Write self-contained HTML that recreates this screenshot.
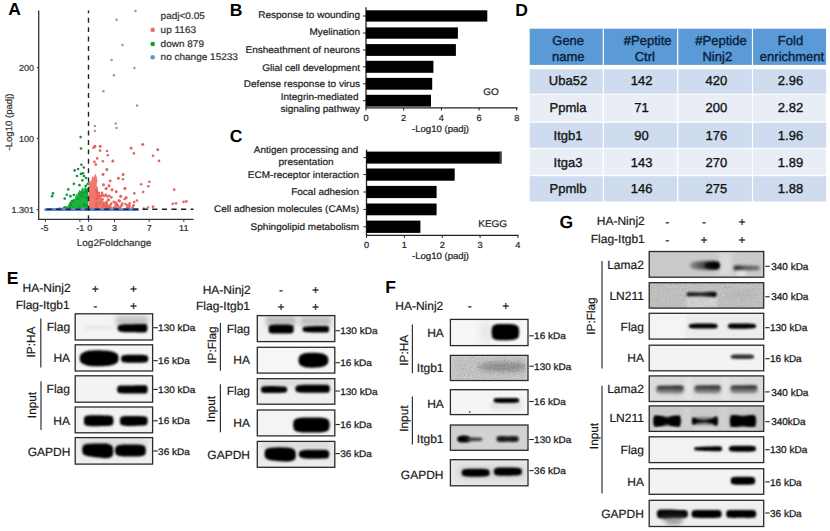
<!DOCTYPE html>
<html><head><meta charset="utf-8"><style>html,body{margin:0;padding:0;background:#fff;width:830px;height:531px;overflow:hidden} text{font-family:"Liberation Sans", sans-serif}</style></head>
<body><svg width="830" height="531" viewBox="0 0 830 531" style="display:block;font-family:&quot;Liberation Sans&quot;, sans-serif" text-rendering="geometricPrecision"><defs><filter id="b25" x="-50%" y="-100%" width="200%" height="300%"><feGaussianBlur stdDeviation="2.5"/></filter><filter id="b15" x="-50%" y="-100%" width="200%" height="300%"><feGaussianBlur stdDeviation="1.5"/></filter><filter id="b9" x="-50%" y="-100%" width="200%" height="300%"><feGaussianBlur stdDeviation="0.9"/></filter><filter id="b20" x="-50%" y="-100%" width="200%" height="300%"><feGaussianBlur stdDeviation="2.0"/></filter><filter id="b10" x="-50%" y="-100%" width="200%" height="300%"><feGaussianBlur stdDeviation="1.0"/></filter><filter id="b22" x="-50%" y="-100%" width="200%" height="300%"><feGaussianBlur stdDeviation="2.2"/></filter><filter id="b35" x="-50%" y="-100%" width="200%" height="300%"><feGaussianBlur stdDeviation="3.5"/></filter><filter id="b30" x="-50%" y="-100%" width="200%" height="300%"><feGaussianBlur stdDeviation="3"/></filter><filter id="b11" x="-50%" y="-100%" width="200%" height="300%"><feGaussianBlur stdDeviation="1.1"/></filter><filter id="b12" x="-50%" y="-100%" width="200%" height="300%"><feGaussianBlur stdDeviation="1.2"/></filter><filter id="b16" x="-50%" y="-100%" width="200%" height="300%"><feGaussianBlur stdDeviation="1.6"/></filter><filter id="b13" x="-50%" y="-100%" width="200%" height="300%"><feGaussianBlur stdDeviation="1.3"/></filter><clipPath id="ce1"><rect x="75.2" y="313.8" width="77.39999999999999" height="26.19999999999999"/></clipPath><clipPath id="ce2"><rect x="75.2" y="344.8" width="77.39999999999999" height="26.19999999999999"/></clipPath><clipPath id="ce3"><rect x="75.2" y="375.8" width="77.39999999999999" height="26.399999999999977"/></clipPath><clipPath id="ce4"><rect x="75.2" y="407.0" width="77.39999999999999" height="25.80000000000001"/></clipPath><clipPath id="ce5"><rect x="75.2" y="437.6" width="77.39999999999999" height="26.5"/></clipPath><clipPath id="cf1"><rect x="257.3" y="315.6" width="77.5" height="26.0"/></clipPath><clipPath id="cf2"><rect x="257.3" y="347.3" width="77.5" height="25.80000000000001"/></clipPath><clipPath id="cf3"><rect x="257.3" y="378.7" width="77.5" height="25.5"/></clipPath><clipPath id="cf4"><rect x="257.3" y="410.0" width="77.5" height="25.899999999999977"/></clipPath><clipPath id="cf5"><rect x="257.3" y="441.4" width="77.5" height="25.900000000000034"/></clipPath><clipPath id="cg1"><rect x="450.4" y="319.4" width="77.60000000000002" height="26.200000000000045"/></clipPath><clipPath id="cg2"><rect x="450.4" y="355.4" width="77.60000000000002" height="25.100000000000023"/></clipPath><clipPath id="cg3"><rect x="450.4" y="389.7" width="77.60000000000002" height="24.900000000000034"/></clipPath><clipPath id="cg4"><rect x="450.4" y="425.0" width="77.60000000000002" height="25.30000000000001"/></clipPath><clipPath id="cg5"><rect x="450.4" y="459.7" width="77.60000000000002" height="26.100000000000023"/></clipPath><clipPath id="ch1"><rect x="649.2" y="251.5" width="114.5" height="25.69999999999999"/></clipPath><clipPath id="ch2"><rect x="649.2" y="282.7" width="114.5" height="25.400000000000034"/></clipPath><clipPath id="ch3"><rect x="649.2" y="313.3" width="114.5" height="25.80000000000001"/></clipPath><clipPath id="ch4"><rect x="649.2" y="345.2" width="114.5" height="25.600000000000023"/></clipPath><clipPath id="ch5"><rect x="649.2" y="375.9" width="114.5" height="25.600000000000023"/></clipPath><clipPath id="ch6"><rect x="649.2" y="405.9" width="114.5" height="25.5"/></clipPath><clipPath id="ch7"><rect x="649.2" y="436.8" width="114.5" height="25.80000000000001"/></clipPath><clipPath id="ch8"><rect x="649.2" y="468.7" width="114.5" height="25.600000000000023"/></clipPath><clipPath id="ch9"><rect x="649.2" y="500.3" width="114.5" height="26.19999999999999"/></clipPath><filter id="noise3" x="0" y="0" width="100%" height="100%"><feTurbulence type="fractalNoise" baseFrequency="0.7" numOctaves="2" seed="3"/><feColorMatrix type="matrix" values="0 0 0 0 0  0 0 0 0 0  0 0 0 0 0  0 0 0 -2.5 1.45"/></filter><filter id="noise5" x="0" y="0" width="100%" height="100%"><feTurbulence type="fractalNoise" baseFrequency="0.7" numOctaves="2" seed="5"/><feColorMatrix type="matrix" values="0 0 0 0 0  0 0 0 0 0  0 0 0 0 0  0 0 0 -2.5 1.45"/></filter></defs><rect width="830" height="531" fill="#fff"/><text x="8.3" y="15.4" font-size="17.5" text-anchor="start" font-weight="bold" fill="#000" stroke="#000" stroke-width="0">A</text>
<text x="229.8" y="15.8" font-size="17.5" text-anchor="start" font-weight="bold" fill="#000" stroke="#000" stroke-width="0">B</text>
<text x="229.8" y="141.8" font-size="17.5" text-anchor="start" font-weight="bold" fill="#000" stroke="#000" stroke-width="0">C</text>
<text x="515.2" y="15.6" font-size="17.5" text-anchor="start" font-weight="bold" fill="#000" stroke="#000" stroke-width="0">D</text>
<text x="6.8" y="283.8" font-size="17.5" text-anchor="start" font-weight="bold" fill="#000" stroke="#000" stroke-width="0">E</text>
<text x="385.3" y="293.3" font-size="17.5" text-anchor="start" font-weight="bold" fill="#000" stroke="#000" stroke-width="0">F</text>
<text x="559.5" y="228.0" font-size="17.5" text-anchor="start" font-weight="bold" fill="#000" stroke="#000" stroke-width="0">G</text>
<g id="volcano">
<polygon points="66,208.8 68,205 70,202.5 72,203 73,199.5 75,198.5 76,194 78,195 79,190 81,191 82,187 84,189.5 85,185.5 86.5,188.5 88.2,187.5 88.2,208.8" fill="#1cb43f"/>
<polygon points="88.7,208.8 88.7,184 90,180 91,182 92.5,176 94,177.5 95,173.5 96.5,176 97.5,181 96.5,185 98,188 97.5,192 99.5,193.5 100.5,197 102,198 103,201 105,202.5 107,203 110,206 116,208.8" fill="#f3786c"/>
<circle cx="135.5" cy="10.9" r="1.25" fill="#cc8585"/>
<circle cx="116.6" cy="19.8" r="1.25" fill="#cc8585"/>
<circle cx="122.5" cy="45.0" r="1.25" fill="#cc8585"/>
<circle cx="111.6" cy="60.0" r="1.25" fill="#cc8585"/>
<circle cx="134.4" cy="67.9" r="1.25" fill="#cc8585"/>
<circle cx="113.9" cy="75.2" r="1.25" fill="#cc8585"/>
<circle cx="103.4" cy="91.3" r="1.25" fill="#cc8585"/>
<circle cx="137.0" cy="105.6" r="1.25" fill="#cc8585"/>
<circle cx="115.7" cy="123.5" r="1.25" fill="#cc8585"/>
<circle cx="116.5" cy="127.9" r="1.25" fill="#cc8585"/>
<circle cx="94.8" cy="126.1" r="1.25" fill="#cc8585"/>
<circle cx="94.8" cy="131.1" r="1.25" fill="#cc8585"/>
<circle cx="143.0" cy="144.5" r="1.3" fill="#d86a66"/>
<circle cx="100.4" cy="146.3" r="1.3" fill="#d86a66"/>
<circle cx="95.0" cy="146.2" r="1.35" fill="#e8655f"/>
<circle cx="93.6" cy="147.7" r="1.35" fill="#e8655f"/>
<circle cx="131.3" cy="148.0" r="1.3" fill="#d86a66"/>
<circle cx="157.7" cy="149.5" r="1.3" fill="#d86a66"/>
<circle cx="142.4" cy="144.5" r="1.3" fill="#d86a66"/>
<circle cx="131.0" cy="148.2" r="1.3" fill="#d86a66"/>
<circle cx="133.9" cy="153.4" r="1.3" fill="#d86a66"/>
<circle cx="157.9" cy="149.9" r="1.3" fill="#d86a66"/>
<circle cx="153.0" cy="155.8" r="1.3" fill="#d86a66"/>
<circle cx="159.0" cy="160.9" r="1.3" fill="#d86a66"/>
<circle cx="113.0" cy="160.9" r="1.3" fill="#d86a66"/>
<circle cx="106.8" cy="169.4" r="1.3" fill="#d86a66"/>
<circle cx="103.1" cy="174.3" r="1.3" fill="#d86a66"/>
<circle cx="122.9" cy="174.6" r="1.3" fill="#d86a66"/>
<circle cx="118.4" cy="178.4" r="1.3" fill="#d86a66"/>
<circle cx="122.9" cy="179.3" r="1.3" fill="#d86a66"/>
<circle cx="110.2" cy="180.7" r="1.3" fill="#d86a66"/>
<circle cx="149.4" cy="181.7" r="1.3" fill="#d86a66"/>
<circle cx="141.2" cy="184.2" r="1.3" fill="#d86a66"/>
<circle cx="148.3" cy="186.3" r="1.35" fill="#e8655f"/>
<circle cx="103.5" cy="184.9" r="1.3" fill="#d86a66"/>
<circle cx="108.8" cy="185.9" r="1.35" fill="#e8655f"/>
<circle cx="125.1" cy="188.3" r="1.35" fill="#e8655f"/>
<circle cx="105.9" cy="188.7" r="1.35" fill="#e8655f"/>
<circle cx="112.0" cy="189.7" r="1.35" fill="#e8655f"/>
<circle cx="116.2" cy="191.6" r="1.35" fill="#e8655f"/>
<circle cx="143.1" cy="192.0" r="1.35" fill="#e8655f"/>
<circle cx="134.3" cy="193.4" r="1.35" fill="#e8655f"/>
<circle cx="174.2" cy="189.7" r="1.35" fill="#e8655f"/>
<circle cx="120.9" cy="196.2" r="1.35" fill="#e8655f"/>
<circle cx="126.1" cy="197.6" r="1.35" fill="#e8655f"/>
<circle cx="124.7" cy="199.0" r="1.35" fill="#e8655f"/>
<circle cx="137.0" cy="200.5" r="1.35" fill="#e8655f"/>
<circle cx="134.2" cy="202.1" r="1.35" fill="#e8655f"/>
<circle cx="129.7" cy="203.3" r="1.35" fill="#e8655f"/>
<circle cx="127.5" cy="205.3" r="1.35" fill="#e8655f"/>
<circle cx="133.6" cy="205.3" r="1.35" fill="#e8655f"/>
<circle cx="172.7" cy="203.8" r="1.35" fill="#e8655f"/>
<circle cx="176.0" cy="203.3" r="1.35" fill="#e8655f"/>
<circle cx="183.6" cy="201.9" r="1.35" fill="#e8655f"/>
<circle cx="186.4" cy="201.4" r="1.35" fill="#e8655f"/>
<circle cx="153.0" cy="206.7" r="1.35" fill="#e8655f"/>
<circle cx="148.0" cy="207.5" r="1.35" fill="#e8655f"/>
<circle cx="143.8" cy="208.5" r="1.35" fill="#e8655f"/>
<circle cx="94.4" cy="147.0" r="1.35" fill="#e8655f"/>
<circle cx="100.0" cy="146.4" r="1.35" fill="#e8655f"/>
<circle cx="100.0" cy="150.6" r="1.35" fill="#e8655f"/>
<circle cx="107.0" cy="151.0" r="1.3" fill="#d86a66"/>
<circle cx="107.8" cy="155.3" r="1.3" fill="#d86a66"/>
<circle cx="97.2" cy="158.4" r="1.35" fill="#e8655f"/>
<circle cx="94.4" cy="161.9" r="1.35" fill="#e8655f"/>
<circle cx="102.9" cy="161.2" r="1.3" fill="#d86a66"/>
<circle cx="112.7" cy="161.2" r="1.3" fill="#d86a66"/>
<circle cx="95.8" cy="164.7" r="1.35" fill="#e8655f"/>
<circle cx="107.0" cy="169.7" r="1.3" fill="#d86a66"/>
<circle cx="102.9" cy="174.6" r="1.3" fill="#d86a66"/>
<circle cx="123.3" cy="174.6" r="1.3" fill="#d86a66"/>
<circle cx="118.4" cy="178.1" r="1.3" fill="#d86a66"/>
<circle cx="110.0" cy="181.0" r="1.3" fill="#d86a66"/>
<circle cx="103.6" cy="184.9" r="1.3" fill="#d86a66"/>
<circle cx="109.2" cy="185.9" r="1.35" fill="#e8655f"/>
<circle cx="106.4" cy="188.7" r="1.35" fill="#e8655f"/>
<circle cx="112.0" cy="190.1" r="1.35" fill="#e8655f"/>
<circle cx="124.7" cy="188.7" r="1.35" fill="#e8655f"/>
<circle cx="116.3" cy="192.0" r="1.35" fill="#e8655f"/>
<circle cx="102.1" cy="195.0" r="1.35" fill="#e8655f"/>
<circle cx="109.2" cy="195.8" r="1.35" fill="#e8655f"/>
<circle cx="120.5" cy="196.5" r="1.35" fill="#e8655f"/>
<circle cx="126.2" cy="197.9" r="1.35" fill="#e8655f"/>
<circle cx="104.3" cy="196.0" r="1.35" fill="#e8655f"/>
<circle cx="119.6" cy="201.2" r="1.35" fill="#e8655f"/>
<circle cx="113.7" cy="201.8" r="1.35" fill="#e8655f"/>
<circle cx="96.6" cy="199.5" r="1.35" fill="#e8655f"/>
<circle cx="96.3" cy="198.1" r="1.35" fill="#e8655f"/>
<circle cx="96.8" cy="192.0" r="1.35" fill="#e8655f"/>
<circle cx="108.4" cy="206.3" r="1.35" fill="#e8655f"/>
<circle cx="98.0" cy="194.8" r="1.35" fill="#e8655f"/>
<circle cx="118.4" cy="208.1" r="1.35" fill="#e8655f"/>
<circle cx="115.7" cy="202.7" r="1.35" fill="#e8655f"/>
<circle cx="96.5" cy="205.9" r="1.35" fill="#e8655f"/>
<circle cx="103.0" cy="195.4" r="1.35" fill="#e8655f"/>
<circle cx="97.8" cy="196.3" r="1.35" fill="#e8655f"/>
<circle cx="129.2" cy="205.6" r="1.35" fill="#e8655f"/>
<circle cx="116.0" cy="205.1" r="1.35" fill="#e8655f"/>
<circle cx="106.2" cy="202.2" r="1.35" fill="#e8655f"/>
<circle cx="96.7" cy="191.4" r="1.35" fill="#e8655f"/>
<circle cx="100.2" cy="203.2" r="1.35" fill="#e8655f"/>
<circle cx="108.6" cy="199.7" r="1.35" fill="#e8655f"/>
<circle cx="116.2" cy="203.3" r="1.35" fill="#e8655f"/>
<circle cx="103.4" cy="205.4" r="1.35" fill="#e8655f"/>
<circle cx="122.3" cy="203.5" r="1.35" fill="#e8655f"/>
<circle cx="115.6" cy="203.9" r="1.35" fill="#e8655f"/>
<circle cx="132.8" cy="208.0" r="1.35" fill="#e8655f"/>
<circle cx="103.0" cy="208.2" r="1.35" fill="#e8655f"/>
<circle cx="97.8" cy="198.2" r="1.35" fill="#e8655f"/>
<circle cx="125.6" cy="204.1" r="1.35" fill="#e8655f"/>
<circle cx="111.4" cy="197.4" r="1.35" fill="#e8655f"/>
<circle cx="120.6" cy="206.7" r="1.35" fill="#e8655f"/>
<circle cx="115.5" cy="207.3" r="1.35" fill="#e8655f"/>
<circle cx="103.9" cy="203.9" r="1.35" fill="#e8655f"/>
<circle cx="116.6" cy="204.6" r="1.35" fill="#e8655f"/>
<circle cx="109.9" cy="206.5" r="1.35" fill="#e8655f"/>
<circle cx="110.7" cy="204.5" r="1.35" fill="#e8655f"/>
<circle cx="96.7" cy="203.1" r="1.35" fill="#e8655f"/>
<circle cx="119.4" cy="208.4" r="1.35" fill="#e8655f"/>
<circle cx="129.5" cy="206.1" r="1.35" fill="#e8655f"/>
<circle cx="106.8" cy="204.0" r="1.35" fill="#e8655f"/>
<circle cx="96.2" cy="198.6" r="1.35" fill="#e8655f"/>
<circle cx="99.1" cy="193.4" r="1.35" fill="#e8655f"/>
<circle cx="96.6" cy="204.3" r="1.35" fill="#e8655f"/>
<circle cx="98.1" cy="195.3" r="1.35" fill="#e8655f"/>
<circle cx="107.0" cy="206.8" r="1.35" fill="#e8655f"/>
<circle cx="97.0" cy="198.6" r="1.35" fill="#e8655f"/>
<circle cx="114.3" cy="207.3" r="1.35" fill="#e8655f"/>
<circle cx="129.4" cy="208.0" r="1.35" fill="#e8655f"/>
<circle cx="102.6" cy="199.4" r="1.35" fill="#e8655f"/>
<circle cx="105.7" cy="206.9" r="1.35" fill="#e8655f"/>
<circle cx="98.6" cy="194.2" r="1.35" fill="#e8655f"/>
<circle cx="101.0" cy="196.1" r="1.35" fill="#e8655f"/>
<circle cx="111.2" cy="203.7" r="1.35" fill="#e8655f"/>
<circle cx="102.1" cy="192.8" r="1.35" fill="#e8655f"/>
<circle cx="108.2" cy="200.3" r="1.35" fill="#e8655f"/>
<circle cx="115.2" cy="208.0" r="1.35" fill="#e8655f"/>
<circle cx="121.8" cy="205.2" r="1.35" fill="#e8655f"/>
<circle cx="117.8" cy="205.7" r="1.35" fill="#e8655f"/>
<circle cx="96.6" cy="206.7" r="1.35" fill="#e8655f"/>
<circle cx="127.0" cy="207.9" r="1.35" fill="#e8655f"/>
<circle cx="128.1" cy="206.0" r="1.35" fill="#e8655f"/>
<circle cx="107.3" cy="196.5" r="1.35" fill="#e8655f"/>
<circle cx="118.7" cy="200.7" r="1.35" fill="#e8655f"/>
<circle cx="96.8" cy="194.1" r="1.35" fill="#e8655f"/>
<circle cx="98.9" cy="197.2" r="1.35" fill="#e8655f"/>
<circle cx="96.5" cy="190.2" r="1.35" fill="#e8655f"/>
<circle cx="98.6" cy="192.9" r="1.35" fill="#e8655f"/>
<circle cx="105.9" cy="194.8" r="1.35" fill="#e8655f"/>
<circle cx="132.8" cy="207.7" r="1.35" fill="#e8655f"/>
<circle cx="80.6" cy="137.1" r="1.3" fill="#2a8046"/>
<circle cx="81.0" cy="148.5" r="1.3" fill="#2a8046"/>
<circle cx="81.4" cy="164.7" r="1.3" fill="#2a8046"/>
<circle cx="74.6" cy="170.4" r="1.3" fill="#2a8046"/>
<circle cx="78.1" cy="169.0" r="1.3" fill="#2a8046"/>
<circle cx="83.8" cy="167.5" r="1.3" fill="#2a8046"/>
<circle cx="81.0" cy="173.9" r="1.3" fill="#2a8046"/>
<circle cx="83.0" cy="173.2" r="1.3" fill="#2a8046"/>
<circle cx="82.4" cy="180.3" r="1.35" fill="#129a38"/>
<circle cx="73.9" cy="183.8" r="1.35" fill="#129a38"/>
<circle cx="79.5" cy="185.2" r="1.35" fill="#129a38"/>
<circle cx="68.2" cy="189.4" r="1.35" fill="#129a38"/>
<circle cx="53.0" cy="193.4" r="1.35" fill="#129a38"/>
<circle cx="52.0" cy="196.2" r="1.35" fill="#129a38"/>
<circle cx="66.8" cy="194.8" r="1.35" fill="#129a38"/>
<circle cx="70.4" cy="196.2" r="1.35" fill="#129a38"/>
<circle cx="73.9" cy="195.0" r="1.35" fill="#129a38"/>
<circle cx="64.7" cy="198.6" r="1.35" fill="#129a38"/>
<circle cx="84.0" cy="176.0" r="1.35" fill="#129a38"/>
<circle cx="86.0" cy="178.0" r="1.35" fill="#129a38"/>
<circle cx="77.0" cy="176.0" r="1.35" fill="#129a38"/>
<circle cx="86.0" cy="191.1" r="1.35" fill="#129a38"/>
<circle cx="81.9" cy="196.3" r="1.35" fill="#129a38"/>
<circle cx="86.4" cy="205.3" r="1.35" fill="#129a38"/>
<circle cx="64.2" cy="207.8" r="1.35" fill="#129a38"/>
<circle cx="78.7" cy="193.8" r="1.35" fill="#129a38"/>
<circle cx="86.8" cy="192.7" r="1.35" fill="#129a38"/>
<circle cx="83.7" cy="205.3" r="1.35" fill="#129a38"/>
<circle cx="85.8" cy="185.8" r="1.35" fill="#129a38"/>
<circle cx="65.5" cy="207.3" r="1.35" fill="#129a38"/>
<circle cx="86.0" cy="198.0" r="1.35" fill="#129a38"/>
<circle cx="87.8" cy="196.8" r="1.35" fill="#129a38"/>
<circle cx="64.7" cy="208.6" r="1.35" fill="#129a38"/>
<circle cx="73.0" cy="200.9" r="1.35" fill="#129a38"/>
<circle cx="81.5" cy="192.8" r="1.35" fill="#129a38"/>
<circle cx="70.9" cy="204.9" r="1.35" fill="#129a38"/>
<circle cx="70.7" cy="203.2" r="1.35" fill="#129a38"/>
<circle cx="84.6" cy="204.7" r="1.35" fill="#129a38"/>
<circle cx="64.5" cy="208.6" r="1.35" fill="#129a38"/>
<circle cx="69.9" cy="207.6" r="1.35" fill="#129a38"/>
<circle cx="71.8" cy="201.4" r="1.35" fill="#129a38"/>
<circle cx="77.8" cy="198.8" r="1.35" fill="#129a38"/>
<circle cx="87.8" cy="184.0" r="1.35" fill="#129a38"/>
<circle cx="83.4" cy="193.1" r="1.35" fill="#129a38"/>
<circle cx="73.1" cy="208.5" r="1.35" fill="#129a38"/>
<circle cx="79.6" cy="207.9" r="1.35" fill="#129a38"/>
<polygon points="44.5,208.2 56,207.9 60,207.4 64,208.1 138.7,208.2 138.7,211.1 44.5,211.1" fill="#5b86d6"/>
</g>
<line x1="38.7" y1="10.4" x2="38.7" y2="219.9" stroke="#333" stroke-width="1.3"/>
<line x1="38.7" y1="219.4" x2="193.5" y2="219.4" stroke="#333" stroke-width="1.3"/>
<line x1="88.5" y1="10.6" x2="88.5" y2="219.4" stroke="#222" stroke-width="1.4" stroke-dasharray="4.9 4.5" stroke-dashoffset="2.2"/>
<line x1="44.5" y1="209.3" x2="193.5" y2="209.3" stroke="#222" stroke-width="1.4" stroke-dasharray="5.2 4.4" stroke-dashoffset="7.5"/>
<line x1="36.9" y1="67.6" x2="38.7" y2="67.6" stroke="#333" stroke-width="1.2"/>
<text x="0" y="0" font-size="9" text-anchor="end" font-weight="normal" fill="#333" stroke="#333" stroke-width="0.22" transform="translate(34.10 70.92) scale(1 0.97)">200</text>
<line x1="36.9" y1="138.4" x2="38.7" y2="138.4" stroke="#333" stroke-width="1.2"/>
<text x="0" y="0" font-size="9" text-anchor="end" font-weight="normal" fill="#333" stroke="#333" stroke-width="0.22" transform="translate(34.10 141.72) scale(1 0.97)">100</text>
<line x1="36.9" y1="209.6" x2="38.7" y2="209.6" stroke="#333" stroke-width="1.2"/>
<text x="0" y="0" font-size="9" text-anchor="end" font-weight="normal" fill="#333" stroke="#333" stroke-width="0.22" transform="translate(34.10 212.92) scale(1 0.97)">1.301</text>
<line x1="45.3" y1="219.4" x2="45.3" y2="221.9" stroke="#333" stroke-width="1"/>
<text x="0" y="0" font-size="9" text-anchor="middle" font-weight="normal" fill="#333" stroke="#333" stroke-width="0.22" transform="translate(44.55 231.12) scale(1 0.97)">-5</text>
<line x1="79.9" y1="219.4" x2="79.9" y2="221.9" stroke="#333" stroke-width="1"/>
<line x1="88.6" y1="219.4" x2="88.6" y2="221.9" stroke="#333" stroke-width="1"/>
<line x1="114.5" y1="219.4" x2="114.5" y2="221.9" stroke="#333" stroke-width="1"/>
<text x="0" y="0" font-size="9" text-anchor="middle" font-weight="normal" fill="#333" stroke="#333" stroke-width="0.22" transform="translate(114.55 231.12) scale(1 0.97)">3</text>
<line x1="149.2" y1="219.4" x2="149.2" y2="221.9" stroke="#333" stroke-width="1"/>
<text x="0" y="0" font-size="9" text-anchor="middle" font-weight="normal" fill="#333" stroke="#333" stroke-width="0.22" transform="translate(149.15 231.12) scale(1 0.97)">7</text>
<line x1="183.8" y1="219.4" x2="183.8" y2="221.9" stroke="#333" stroke-width="1"/>
<text x="0" y="0" font-size="9" text-anchor="middle" font-weight="normal" fill="#333" stroke="#333" stroke-width="0.22" transform="translate(183.75 231.12) scale(1 0.97)">11</text>
<text x="0" y="0" font-size="9" text-anchor="middle" font-weight="normal" fill="#333" stroke="#333" stroke-width="0.22" transform="translate(80.15 231.12) scale(1 0.97)">-1</text>
<text x="0" y="0" font-size="9" text-anchor="middle" font-weight="normal" fill="#333" stroke="#333" stroke-width="0.22" transform="translate(89.80 231.12) scale(1 0.97)">0</text>
<text x="0" y="0" font-size="10" text-anchor="middle" font-weight="normal" fill="#333" stroke="#333" stroke-width="0.22" transform="translate(114.00 245.58) scale(1 0.97)">Log2Foldchange</text>
<text x="0" y="0" font-size="9.6" text-anchor="middle" fill="#333" stroke="#333" stroke-width="0.22" transform="translate(12.3 122) rotate(-90) scale(1 0.97)">-Log10 (padj)</text>
<text x="0" y="0" font-size="10" text-anchor="start" font-weight="normal" fill="#333" stroke="#333" stroke-width="0.22" transform="translate(160.60 19.10) scale(1 0.97)">padj&lt;0.05</text>
<circle cx="152.7" cy="29.9" r="2.3" fill="#e57373"/>
<text x="0" y="0" font-size="10" text-anchor="start" font-weight="normal" fill="#333" stroke="#333" stroke-width="0.22" transform="translate(160.60 32.70) scale(1 0.97)">up 1163</text>
<circle cx="152.7" cy="44.0" r="2.3" fill="#0f9d3a"/>
<text x="0" y="0" font-size="10" text-anchor="start" font-weight="normal" fill="#333" stroke="#333" stroke-width="0.22" transform="translate(160.60 46.80) scale(1 0.97)">down 879</text>
<circle cx="152.7" cy="57.2" r="2.3" fill="#6a8fd8"/>
<text x="0" y="0" font-size="10" text-anchor="start" font-weight="normal" fill="#333" stroke="#333" stroke-width="0.22" transform="translate(160.60 60.40) scale(1 0.97)">no change 15233</text>
<line x1="366.0" y1="7.3" x2="366.0" y2="108.3" stroke="#222" stroke-width="1.3"/>
<line x1="366.0" y1="107.8" x2="517.5" y2="107.8" stroke="#222" stroke-width="1.3"/>
<line x1="366.0" y1="107.8" x2="366.0" y2="110.5" stroke="#222" stroke-width="1"/>
<text x="0" y="0" font-size="9.2" text-anchor="middle" font-weight="normal" fill="#222" stroke="#222" stroke-width="0.22" transform="translate(366.00 121.29) scale(1 0.97)">0</text>
<line x1="403.7" y1="107.8" x2="403.7" y2="110.5" stroke="#222" stroke-width="1"/>
<text x="0" y="0" font-size="9.2" text-anchor="middle" font-weight="normal" fill="#222" stroke="#222" stroke-width="0.22" transform="translate(403.68 121.29) scale(1 0.97)">2</text>
<line x1="441.4" y1="107.8" x2="441.4" y2="110.5" stroke="#222" stroke-width="1"/>
<text x="0" y="0" font-size="9.2" text-anchor="middle" font-weight="normal" fill="#222" stroke="#222" stroke-width="0.22" transform="translate(441.36 121.29) scale(1 0.97)">4</text>
<line x1="479.0" y1="107.8" x2="479.0" y2="110.5" stroke="#222" stroke-width="1"/>
<text x="0" y="0" font-size="9.2" text-anchor="middle" font-weight="normal" fill="#222" stroke="#222" stroke-width="0.22" transform="translate(479.04 121.29) scale(1 0.97)">6</text>
<line x1="516.7" y1="107.8" x2="516.7" y2="110.5" stroke="#222" stroke-width="1"/>
<text x="0" y="0" font-size="9.2" text-anchor="middle" font-weight="normal" fill="#222" stroke="#222" stroke-width="0.22" transform="translate(516.72 121.29) scale(1 0.97)">8</text>
<rect x="366.0" y="10.3" width="121.3" height="11.3" fill="#000"/>
<line x1="363.0" y1="16.0" x2="366.0" y2="16.0" stroke="#222" stroke-width="1"/>
<rect x="366.0" y="27.4" width="91.9" height="11.3" fill="#000"/>
<line x1="363.0" y1="33.0" x2="366.0" y2="33.0" stroke="#222" stroke-width="1"/>
<rect x="366.0" y="44.1" width="89.9" height="11.8" fill="#000"/>
<line x1="363.0" y1="50.0" x2="366.0" y2="50.0" stroke="#222" stroke-width="1"/>
<rect x="366.0" y="60.8" width="67.4" height="12.0" fill="#000"/>
<line x1="363.0" y1="66.8" x2="366.0" y2="66.8" stroke="#222" stroke-width="1"/>
<rect x="366.0" y="77.9" width="66.2" height="11.8" fill="#000"/>
<line x1="363.0" y1="83.8" x2="366.0" y2="83.8" stroke="#222" stroke-width="1"/>
<rect x="366.0" y="94.8" width="65.0" height="11.8" fill="#000"/>
<line x1="363.0" y1="100.7" x2="366.0" y2="100.7" stroke="#222" stroke-width="1"/>
<text x="0" y="0" font-size="10" text-anchor="end" font-weight="normal" fill="#222" stroke="#222" stroke-width="0.22" transform="translate(360.00 18.08) scale(1 0.97)">Response to wounding</text>
<text x="0" y="0" font-size="10" text-anchor="end" font-weight="normal" fill="#222" stroke="#222" stroke-width="0.22" transform="translate(360.00 35.28) scale(1 0.97)">Myelination</text>
<text x="0" y="0" font-size="10" text-anchor="end" font-weight="normal" fill="#222" stroke="#222" stroke-width="0.22" transform="translate(360.00 53.08) scale(1 0.97)">Ensheathment of neurons</text>
<text x="0" y="0" font-size="10" text-anchor="end" font-weight="normal" fill="#222" stroke="#222" stroke-width="0.22" transform="translate(360.00 70.68) scale(1 0.97)">Glial cell development</text>
<text x="0" y="0" font-size="10" text-anchor="end" font-weight="normal" fill="#222" stroke="#222" stroke-width="0.22" transform="translate(360.00 86.98) scale(1 0.97)">Defense response to virus</text>
<text x="0" y="0" font-size="10" text-anchor="end" font-weight="normal" fill="#222" stroke="#222" stroke-width="0.22" transform="translate(358.50 99.68) scale(1 0.97)">Integrin-mediated</text>
<text x="0" y="0" font-size="10" text-anchor="end" font-weight="normal" fill="#222" stroke="#222" stroke-width="0.22" transform="translate(360.00 111.78) scale(1 0.97)">signaling pathway</text>
<text x="0" y="0" font-size="10" text-anchor="middle" font-weight="normal" fill="#222" stroke="#222" stroke-width="0.22" transform="translate(491.00 95.48) scale(1 0.97)">GO</text>
<line x1="366.5" y1="149.6" x2="366.5" y2="235.8" stroke="#222" stroke-width="1.3"/>
<line x1="366.5" y1="235.3" x2="518.5" y2="235.3" stroke="#222" stroke-width="1.3"/>
<line x1="366.5" y1="235.3" x2="366.5" y2="238.0" stroke="#222" stroke-width="1"/>
<text x="0" y="0" font-size="9.2" text-anchor="middle" font-weight="normal" fill="#222" stroke="#222" stroke-width="0.22" transform="translate(366.50 247.69) scale(1 0.97)">0</text>
<line x1="404.4" y1="235.3" x2="404.4" y2="238.0" stroke="#222" stroke-width="1"/>
<text x="0" y="0" font-size="9.2" text-anchor="middle" font-weight="normal" fill="#222" stroke="#222" stroke-width="0.22" transform="translate(404.35 247.69) scale(1 0.97)">1</text>
<line x1="442.2" y1="235.3" x2="442.2" y2="238.0" stroke="#222" stroke-width="1"/>
<text x="0" y="0" font-size="9.2" text-anchor="middle" font-weight="normal" fill="#222" stroke="#222" stroke-width="0.22" transform="translate(442.20 247.69) scale(1 0.97)">2</text>
<line x1="480.1" y1="235.3" x2="480.1" y2="238.0" stroke="#222" stroke-width="1"/>
<text x="0" y="0" font-size="9.2" text-anchor="middle" font-weight="normal" fill="#222" stroke="#222" stroke-width="0.22" transform="translate(480.05 247.69) scale(1 0.97)">3</text>
<line x1="517.9" y1="235.3" x2="517.9" y2="238.0" stroke="#222" stroke-width="1"/>
<text x="0" y="0" font-size="9.2" text-anchor="middle" font-weight="normal" fill="#222" stroke="#222" stroke-width="0.22" transform="translate(517.90 247.69) scale(1 0.97)">4</text>
<rect x="366.5" y="151.6" width="135.0" height="12.0" fill="#000"/>
<line x1="363.5" y1="157.6" x2="366.5" y2="157.6" stroke="#222" stroke-width="1"/>
<rect x="366.5" y="168.5" width="88.2" height="12.2" fill="#000"/>
<line x1="363.5" y1="174.6" x2="366.5" y2="174.6" stroke="#222" stroke-width="1"/>
<rect x="366.5" y="185.9" width="70.1" height="12.2" fill="#000"/>
<line x1="363.5" y1="192.0" x2="366.5" y2="192.0" stroke="#222" stroke-width="1"/>
<rect x="366.5" y="203.5" width="70.1" height="11.8" fill="#000"/>
<line x1="363.5" y1="209.4" x2="366.5" y2="209.4" stroke="#222" stroke-width="1"/>
<rect x="366.5" y="220.6" width="53.9" height="12.3" fill="#000"/>
<line x1="363.5" y1="226.8" x2="366.5" y2="226.8" stroke="#222" stroke-width="1"/>
<rect x="499.5" y="151.6" width="2.0" height="12.0" fill="#444"/>
<text x="0" y="0" font-size="10" text-anchor="end" font-weight="normal" fill="#222" stroke="#222" stroke-width="0.22" transform="translate(358.30 152.98) scale(1 0.97)">Antigen processing and</text>
<text x="0" y="0" font-size="10" text-anchor="middle" font-weight="normal" fill="#222" stroke="#222" stroke-width="0.22" transform="translate(306.00 165.38) scale(1 0.97)">presentation</text>
<text x="0" y="0" font-size="10" text-anchor="end" font-weight="normal" fill="#222" stroke="#222" stroke-width="0.22" transform="translate(359.00 177.78) scale(1 0.97)">ECM-receptor interaction</text>
<text x="0" y="0" font-size="10" text-anchor="end" font-weight="normal" fill="#222" stroke="#222" stroke-width="0.22" transform="translate(359.00 194.78) scale(1 0.97)">Focal adhesion</text>
<text x="0" y="0" font-size="10" text-anchor="end" font-weight="normal" fill="#222" stroke="#222" stroke-width="0.22" transform="translate(359.00 212.38) scale(1 0.97)">Cell adhesion molecules (CAMs)</text>
<text x="0" y="0" font-size="10" text-anchor="end" font-weight="normal" fill="#222" stroke="#222" stroke-width="0.22" transform="translate(359.00 229.78) scale(1 0.97)">Sphingolipid metabolism</text>
<text x="0" y="0" font-size="10" text-anchor="middle" font-weight="normal" fill="#222" stroke="#222" stroke-width="0.22" transform="translate(492.70 226.68) scale(1 0.97)">KEGG</text>
<text x="0" y="0" font-size="9.6" text-anchor="middle" font-weight="normal" fill="#222" stroke="#222" stroke-width="0.22" transform="translate(440.50 132.44) scale(1 0.97)">-Log10 (padj)</text>
<text x="0" y="0" font-size="9.6" text-anchor="middle" font-weight="normal" fill="#222" stroke="#222" stroke-width="0.22" transform="translate(440.50 258.84) scale(1 0.97)">-Log10 (padj)</text>
<rect x="529.7" y="28.7" width="296.4" height="36.2" fill="#5a9ad6"/>
<rect x="529.7" y="69.3" width="296.4" height="24.3" fill="#cfdbee"/>
<rect x="529.7" y="94.8" width="296.4" height="26.8" fill="#e9edf6"/>
<rect x="529.7" y="122.8" width="296.4" height="25.0" fill="#cfdbee"/>
<rect x="529.7" y="149.2" width="296.4" height="25.6" fill="#e9edf6"/>
<rect x="529.7" y="176.2" width="296.4" height="25.3" fill="#cfdbee"/>
<rect x="602.7" y="28.7" width="1.2" height="172.8" fill="#ffffff"/>
<rect x="677.1" y="28.7" width="1.2" height="172.8" fill="#ffffff"/>
<rect x="751.9" y="28.7" width="1.2" height="172.8" fill="#ffffff"/>
<text x="568.2" y="45.3" font-size="13" text-anchor="middle" font-weight="normal" fill="#0a1f3d" stroke="#0a1f3d" stroke-width="0.4">Gene</text>
<text x="568.2" y="60.5" font-size="13" text-anchor="middle" font-weight="normal" fill="#0a1f3d" stroke="#0a1f3d" stroke-width="0.4">name</text>
<text x="647.7" y="45.3" font-size="13" text-anchor="middle" font-weight="normal" fill="#0a1f3d" stroke="#0a1f3d" stroke-width="0.4">#Peptite</text>
<text x="644.8" y="60.5" font-size="13" text-anchor="middle" font-weight="normal" fill="#0a1f3d" stroke="#0a1f3d" stroke-width="0.4">Ctrl</text>
<text x="721.0" y="45.3" font-size="13" text-anchor="middle" font-weight="normal" fill="#0a1f3d" stroke="#0a1f3d" stroke-width="0.4">#Peptide</text>
<text x="717.3" y="60.5" font-size="13" text-anchor="middle" font-weight="normal" fill="#0a1f3d" stroke="#0a1f3d" stroke-width="0.4">Ninj2</text>
<text x="790.5" y="45.3" font-size="13" text-anchor="middle" font-weight="normal" fill="#0a1f3d" stroke="#0a1f3d" stroke-width="0.4">Fold</text>
<text x="792.0" y="60.5" font-size="13" text-anchor="middle" font-weight="normal" fill="#0a1f3d" stroke="#0a1f3d" stroke-width="0.4">enrichment</text>
<text x="568.0" y="85.2" font-size="13" text-anchor="middle" font-weight="normal" fill="#141414" stroke="#141414" stroke-width="0.35">Uba52</text>
<text x="641.6" y="85.2" font-size="13" text-anchor="middle" font-weight="normal" fill="#141414" stroke="#141414" stroke-width="0.35">142</text>
<text x="716.3" y="85.2" font-size="13" text-anchor="middle" font-weight="normal" fill="#141414" stroke="#141414" stroke-width="0.35">420</text>
<text x="790.5" y="85.2" font-size="13" text-anchor="middle" font-weight="normal" fill="#141414" stroke="#141414" stroke-width="0.35">2.96</text>
<text x="568.0" y="112.2" font-size="13" text-anchor="middle" font-weight="normal" fill="#141414" stroke="#141414" stroke-width="0.35">Ppmla</text>
<text x="641.6" y="112.2" font-size="13" text-anchor="middle" font-weight="normal" fill="#141414" stroke="#141414" stroke-width="0.35">71</text>
<text x="716.3" y="112.2" font-size="13" text-anchor="middle" font-weight="normal" fill="#141414" stroke="#141414" stroke-width="0.35">200</text>
<text x="790.5" y="112.2" font-size="13" text-anchor="middle" font-weight="normal" fill="#141414" stroke="#141414" stroke-width="0.35">2.82</text>
<text x="568.0" y="139.6" font-size="13" text-anchor="middle" font-weight="normal" fill="#141414" stroke="#141414" stroke-width="0.35">Itgb1</text>
<text x="641.6" y="139.6" font-size="13" text-anchor="middle" font-weight="normal" fill="#141414" stroke="#141414" stroke-width="0.35">90</text>
<text x="716.3" y="139.6" font-size="13" text-anchor="middle" font-weight="normal" fill="#141414" stroke="#141414" stroke-width="0.35">176</text>
<text x="790.5" y="139.6" font-size="13" text-anchor="middle" font-weight="normal" fill="#141414" stroke="#141414" stroke-width="0.35">1.96</text>
<text x="568.0" y="166.5" font-size="13" text-anchor="middle" font-weight="normal" fill="#141414" stroke="#141414" stroke-width="0.35">Itga3</text>
<text x="641.6" y="166.5" font-size="13" text-anchor="middle" font-weight="normal" fill="#141414" stroke="#141414" stroke-width="0.35">143</text>
<text x="716.3" y="166.5" font-size="13" text-anchor="middle" font-weight="normal" fill="#141414" stroke="#141414" stroke-width="0.35">270</text>
<text x="790.5" y="166.5" font-size="13" text-anchor="middle" font-weight="normal" fill="#141414" stroke="#141414" stroke-width="0.35">1.89</text>
<text x="568.0" y="193.3" font-size="13" text-anchor="middle" font-weight="normal" fill="#141414" stroke="#141414" stroke-width="0.35">Ppmlb</text>
<text x="641.6" y="193.3" font-size="13" text-anchor="middle" font-weight="normal" fill="#141414" stroke="#141414" stroke-width="0.35">146</text>
<text x="716.3" y="193.3" font-size="13" text-anchor="middle" font-weight="normal" fill="#141414" stroke="#141414" stroke-width="0.35">275</text>
<text x="790.5" y="193.3" font-size="13" text-anchor="middle" font-weight="normal" fill="#141414" stroke="#141414" stroke-width="0.35">1.88</text>
<text x="70.6" y="292.2" font-size="12" text-anchor="end" font-weight="normal" fill="#1a1a1a" stroke="#1a1a1a" stroke-width="0.2">HA-Ninj2</text>
<text x="69.7" y="308.8" font-size="12" text-anchor="end" font-weight="normal" fill="#1a1a1a" stroke="#1a1a1a" stroke-width="0.2">Flag-Itgb1</text>
<text x="95.2" y="292.9" font-size="12" text-anchor="middle" font-weight="normal" fill="#1a1a1a" stroke="#1a1a1a" stroke-width="0.2">+</text>
<text x="133.5" y="292.9" font-size="12" text-anchor="middle" font-weight="normal" fill="#1a1a1a" stroke="#1a1a1a" stroke-width="0.2">+</text>
<text x="95.2" y="309.8" font-size="12" text-anchor="middle" font-weight="normal" fill="#1a1a1a" stroke="#1a1a1a" stroke-width="0.2">-</text>
<text x="133.5" y="309.8" font-size="12" text-anchor="middle" font-weight="normal" fill="#1a1a1a" stroke="#1a1a1a" stroke-width="0.2">+</text>
<rect x="75.2" y="313.8" width="77.4" height="26.2" fill="#f4f4f4"/>
<g clip-path="url(#ce1)">
<rect x="116.0" y="316.0" width="32.0" height="10.0" fill="#9a9a9a" opacity="0.55" filter="url(#b25)"/>
<rect x="85.0" y="326.0" width="27.0" height="3.0" fill="#ccc" opacity="0.4" filter="url(#b15)"/>
<polygon points="117.5,328.2 118.2,325.6 119.0,325.3 119.8,325.0 120.5,324.9 121.2,324.7 122.0,324.5 122.8,324.4 123.5,324.3 124.2,324.2 125.0,324.2 125.8,324.2 126.5,324.2 127.2,324.2 128.0,324.2 128.8,324.2 129.5,324.2 130.2,324.2 131.0,324.2 131.8,324.2 132.5,324.2 133.2,324.2 134.0,324.2 134.8,324.1 135.5,324.1 136.2,324.1 137.0,324.0 137.8,324.0 138.5,324.0 139.2,324.0 140.0,324.0 140.8,324.0 141.5,324.0 142.2,324.0 143.0,324.0 143.8,324.0 144.5,324.0 145.2,324.1 146.0,324.3 146.8,324.6 147.5,328.2 147.5,328.2 146.8,331.8 146.0,332.1 145.2,332.3 144.5,332.4 143.8,332.4 143.0,332.4 142.2,332.4 141.5,332.4 140.8,332.4 140.0,332.4 139.2,332.4 138.5,332.4 137.8,332.4 137.0,332.4 136.2,332.3 135.5,332.3 134.8,332.3 134.0,332.2 133.2,332.2 132.5,332.2 131.8,332.2 131.0,332.2 130.2,332.2 129.5,332.2 128.8,332.2 128.0,332.2 127.2,332.2 126.5,332.2 125.8,332.2 125.0,332.2 124.2,332.2 123.5,332.1 122.8,332.0 122.0,331.9 121.2,331.7 120.5,331.5 119.8,331.4 119.0,331.1 118.2,330.8 117.5,328.2" fill="#000" opacity="1.0" filter="url(#b9)"/>
</g>
<rect x="75.2" y="313.8" width="77.4" height="26.2" fill="none" stroke="#2a2a2a" stroke-width="1.3"/>
<rect x="75.2" y="344.8" width="77.4" height="26.2" fill="#f5f5f5"/>
<g clip-path="url(#ce2)">
<polygon points="79.5,358.3 80.5,354.6 81.5,353.7 82.4,353.0 83.4,352.5 84.4,352.1 85.4,351.7 86.4,351.3 87.4,351.0 88.3,350.8 89.3,350.6 90.3,350.6 91.3,350.5 92.3,350.4 93.3,350.4 94.2,350.3 95.2,350.3 96.2,350.3 97.2,350.3 98.2,350.3 99.2,350.3 100.1,350.3 101.1,350.3 102.1,350.4 103.1,350.4 104.1,350.5 105.0,350.5 106.0,350.6 107.0,350.7 108.0,350.8 109.0,350.9 110.0,351.0 110.9,351.2 111.9,351.5 112.9,351.8 113.9,352.2 114.9,352.6 115.9,353.1 116.8,353.7 117.8,354.6 118.8,358.3 118.8,358.3 117.8,362.0 116.8,362.9 115.9,363.5 114.9,364.0 113.9,364.4 112.9,364.8 111.9,365.1 110.9,365.4 110.0,365.6 109.0,365.7 108.0,365.8 107.0,365.9 106.0,366.0 105.0,366.1 104.1,366.1 103.1,366.2 102.1,366.2 101.1,366.3 100.1,366.3 99.2,366.3 98.2,366.3 97.2,366.3 96.2,366.3 95.2,366.3 94.2,366.3 93.3,366.2 92.3,366.2 91.3,366.1 90.3,366.0 89.3,366.0 88.3,365.8 87.4,365.6 86.4,365.3 85.4,364.9 84.4,364.5 83.4,364.1 82.4,363.6 81.5,362.9 80.5,362.0 79.5,358.3" fill="#000" opacity="1.0" filter="url(#b9)"/>
<polygon points="121.0,358.8 121.7,356.0 122.4,355.6 123.1,355.4 123.7,355.3 124.4,355.1 125.1,355.0 125.8,355.0 126.5,354.9 127.2,354.8 127.8,354.8 128.5,354.8 129.2,354.8 129.9,354.8 130.6,354.8 131.3,354.8 132.0,354.8 132.6,354.8 133.3,354.8 134.0,354.8 134.7,354.8 135.4,354.8 136.1,354.8 136.8,354.8 137.4,354.8 138.1,354.8 138.8,354.8 139.5,354.8 140.2,354.8 140.9,354.8 141.6,354.8 142.2,354.8 142.9,354.9 143.6,355.0 144.3,355.0 145.0,355.1 145.7,355.3 146.3,355.4 147.0,355.6 147.7,356.0 148.4,358.8 148.4,358.8 147.7,361.6 147.0,362.0 146.3,362.2 145.7,362.3 145.0,362.5 144.3,362.6 143.6,362.6 142.9,362.7 142.2,362.8 141.6,362.8 140.9,362.8 140.2,362.8 139.5,362.8 138.8,362.8 138.1,362.8 137.4,362.8 136.8,362.8 136.1,362.8 135.4,362.8 134.7,362.8 134.0,362.8 133.3,362.8 132.6,362.8 132.0,362.8 131.3,362.8 130.6,362.8 129.9,362.8 129.2,362.8 128.5,362.8 127.8,362.8 127.2,362.8 126.5,362.7 125.8,362.6 125.1,362.6 124.4,362.5 123.7,362.3 123.1,362.2 122.4,362.0 121.7,361.6 121.0,358.8" fill="#000" opacity="1.0" filter="url(#b9)"/>
</g>
<rect x="75.2" y="344.8" width="77.4" height="26.2" fill="none" stroke="#2a2a2a" stroke-width="1.3"/>
<rect x="75.2" y="375.8" width="77.4" height="26.4" fill="#f3f3f3"/>
<g clip-path="url(#ce3)">
<polygon points="117.0,389.4 117.8,386.2 118.5,385.9 119.3,385.7 120.1,385.6 120.8,385.5 121.6,385.5 122.4,385.5 123.2,385.4 123.9,385.4 124.7,385.4 125.5,385.4 126.2,385.4 127.0,385.4 127.8,385.4 128.6,385.4 129.3,385.4 130.1,385.4 130.9,385.4 131.6,385.4 132.4,385.4 133.2,385.4 133.9,385.4 134.7,385.3 135.5,385.3 136.2,385.3 137.0,385.2 137.8,385.2 138.6,385.2 139.3,385.2 140.1,385.2 140.9,385.2 141.6,385.2 142.4,385.2 143.2,385.2 144.0,385.2 144.7,385.2 145.5,385.3 146.3,385.5 147.0,385.8 147.8,389.4 147.8,389.4 147.0,393.0 146.3,393.3 145.5,393.5 144.7,393.6 144.0,393.6 143.2,393.6 142.4,393.6 141.6,393.6 140.9,393.6 140.1,393.6 139.3,393.6 138.6,393.6 137.8,393.6 137.0,393.6 136.2,393.5 135.5,393.5 134.7,393.5 133.9,393.4 133.2,393.4 132.4,393.4 131.6,393.4 130.9,393.4 130.1,393.4 129.3,393.4 128.6,393.4 127.8,393.4 127.0,393.4 126.2,393.4 125.5,393.4 124.7,393.4 123.9,393.4 123.2,393.4 122.4,393.3 121.6,393.3 120.8,393.3 120.1,393.2 119.3,393.1 118.5,392.9 117.8,392.6 117.0,389.4" fill="#000" opacity="1.0" filter="url(#b9)"/>
</g>
<rect x="75.2" y="375.8" width="77.4" height="26.4" fill="none" stroke="#2a2a2a" stroke-width="1.3"/>
<rect x="75.2" y="407.0" width="77.4" height="25.8" fill="#f2f2f2"/>
<g clip-path="url(#ce4)">
<polygon points="83.8,420.7 84.5,416.7 85.3,416.2 86.0,416.0 86.8,415.8 87.5,415.6 88.3,415.5 89.0,415.4 89.8,415.3 90.5,415.2 91.2,415.2 92.0,415.2 92.7,415.2 93.5,415.2 94.2,415.2 95.0,415.2 95.7,415.2 96.5,415.2 97.2,415.2 98.0,415.2 98.7,415.2 99.4,415.2 100.2,415.2 100.9,415.3 101.7,415.3 102.4,415.3 103.2,415.4 103.9,415.4 104.7,415.4 105.4,415.5 106.1,415.5 106.9,415.5 107.6,415.5 108.4,415.6 109.1,415.6 109.9,415.7 110.6,415.9 111.4,416.0 112.1,416.3 112.9,416.7 113.6,420.7 113.6,420.7 112.9,424.7 112.1,425.1 111.4,425.4 110.6,425.5 109.9,425.7 109.1,425.8 108.4,425.8 107.6,425.9 106.9,425.9 106.1,425.9 105.4,425.9 104.7,426.0 103.9,426.0 103.2,426.0 102.4,426.1 101.7,426.1 100.9,426.1 100.2,426.2 99.4,426.2 98.7,426.2 98.0,426.2 97.2,426.2 96.5,426.2 95.7,426.2 95.0,426.2 94.2,426.2 93.5,426.2 92.7,426.2 92.0,426.2 91.2,426.2 90.5,426.2 89.8,426.1 89.0,426.0 88.3,425.9 87.5,425.8 86.8,425.6 86.0,425.4 85.3,425.2 84.5,424.7 83.8,420.7" fill="#000" opacity="1.0" filter="url(#b9)"/>
<polygon points="119.8,420.9 120.5,417.3 121.2,416.9 121.9,416.6 122.6,416.5 123.3,416.3 124.0,416.2 124.7,416.1 125.4,416.0 126.1,415.9 126.8,415.9 127.5,415.9 128.2,415.9 128.9,415.9 129.6,415.9 130.3,415.9 131.0,415.9 131.7,415.9 132.4,415.9 133.1,415.9 133.8,415.9 134.5,415.9 135.2,415.9 135.9,416.0 136.6,416.0 137.3,416.0 138.0,416.1 138.7,416.1 139.4,416.1 140.1,416.1 140.8,416.2 141.5,416.2 142.2,416.2 142.9,416.3 143.6,416.3 144.3,416.4 145.0,416.5 145.7,416.7 146.4,416.9 147.1,417.3 147.8,420.9 147.8,420.9 147.1,424.5 146.4,424.9 145.7,425.1 145.0,425.3 144.3,425.4 143.6,425.5 142.9,425.5 142.2,425.6 141.5,425.6 140.8,425.6 140.1,425.7 139.4,425.7 138.7,425.7 138.0,425.7 137.3,425.8 136.6,425.8 135.9,425.8 135.2,425.9 134.5,425.9 133.8,425.9 133.1,425.9 132.4,425.9 131.7,425.9 131.0,425.9 130.3,425.9 129.6,425.9 128.9,425.9 128.2,425.9 127.5,425.9 126.8,425.9 126.1,425.9 125.4,425.8 124.7,425.7 124.0,425.6 123.3,425.5 122.6,425.3 121.9,425.2 121.2,424.9 120.5,424.5 119.8,420.9" fill="#000" opacity="1.0" filter="url(#b9)"/>
</g>
<rect x="75.2" y="407.0" width="77.4" height="25.8" fill="none" stroke="#2a2a2a" stroke-width="1.3"/>
<rect x="75.2" y="437.6" width="77.4" height="26.5" fill="#eeeeee"/>
<g clip-path="url(#ce5)">
<rect x="80.0" y="440.0" width="68.0" height="6.0" fill="#bbb" opacity="0.4" filter="url(#b20)"/>
<polygon points="82.0,449.8 82.8,445.8 83.6,445.2 84.4,444.8 85.2,444.5 85.9,444.3 86.7,444.1 87.5,443.9 88.3,443.8 89.1,443.8 89.9,443.7 90.7,443.7 91.5,443.7 92.2,443.7 93.0,443.6 93.8,443.6 94.6,443.5 95.4,443.5 96.2,443.5 97.0,443.5 97.8,443.5 98.5,443.5 99.3,443.5 100.1,443.5 100.9,443.5 101.7,443.4 102.5,443.4 103.3,443.4 104.0,443.4 104.8,443.4 105.6,443.5 106.4,443.6 107.2,443.8 108.0,444.0 108.8,444.2 109.6,444.5 110.3,444.8 111.1,445.2 111.9,445.8 112.7,446.6 113.5,451.2 113.5,451.2 112.7,455.8 111.9,456.6 111.1,457.0 110.3,457.4 109.6,457.7 108.8,457.9 108.0,458.0 107.2,458.1 106.4,458.2 105.6,458.3 104.8,458.2 104.0,458.2 103.3,458.1 102.5,458.0 101.7,457.9 100.9,457.8 100.1,457.7 99.3,457.6 98.5,457.6 97.8,457.5 97.0,457.4 96.2,457.4 95.4,457.3 94.6,457.2 93.8,457.1 93.0,456.9 92.2,456.8 91.5,456.7 90.7,456.6 89.9,456.5 89.1,456.4 88.3,456.3 87.5,456.1 86.7,455.9 85.9,455.6 85.2,455.3 84.4,454.9 83.6,454.5 82.8,453.7 82.0,449.8" fill="#000" opacity="1.0" filter="url(#b10)"/>
<polygon points="114.8,450.5 115.6,446.9 116.4,446.2 117.1,445.8 117.9,445.5 118.7,445.3 119.5,445.1 120.3,444.9 121.0,444.8 121.8,444.7 122.6,444.6 123.4,444.6 124.2,444.5 124.9,444.5 125.7,444.5 126.5,444.5 127.3,444.5 128.1,444.5 128.8,444.5 129.6,444.5 130.4,444.5 131.2,444.5 132.0,444.5 132.7,444.5 133.5,444.5 134.3,444.5 135.1,444.5 135.9,444.5 136.6,444.5 137.4,444.6 138.2,444.6 139.0,444.6 139.8,444.7 140.5,444.8 141.3,444.9 142.1,445.0 142.9,445.2 143.7,445.5 144.4,445.9 145.2,446.6 146.0,450.5 146.0,450.5 145.2,454.4 144.4,455.1 143.7,455.5 142.9,455.8 142.1,456.0 141.3,456.1 140.5,456.2 139.8,456.3 139.0,456.4 138.2,456.4 137.4,456.4 136.6,456.5 135.9,456.5 135.1,456.5 134.3,456.5 133.5,456.5 132.7,456.5 132.0,456.5 131.2,456.5 130.4,456.5 129.6,456.5 128.8,456.5 128.1,456.5 127.3,456.5 126.5,456.5 125.7,456.5 124.9,456.5 124.2,456.5 123.4,456.4 122.6,456.4 121.8,456.3 121.0,456.2 120.3,456.1 119.5,455.9 118.7,455.7 117.9,455.5 117.1,455.2 116.4,454.8 115.6,454.1 114.8,450.5" fill="#000" opacity="1.0" filter="url(#b10)"/>
</g>
<rect x="75.2" y="437.6" width="77.4" height="26.5" fill="none" stroke="#2a2a2a" stroke-width="1.3"/>
<text x="70.1" y="330.5" font-size="12" text-anchor="end" font-weight="normal" fill="#1a1a1a" stroke="#1a1a1a" stroke-width="0.2">Flag</text>
<text x="70.1" y="362.2" font-size="12" text-anchor="end" font-weight="normal" fill="#1a1a1a" stroke="#1a1a1a" stroke-width="0.2">HA</text>
<text x="69.9" y="393.0" font-size="12" text-anchor="end" font-weight="normal" fill="#1a1a1a" stroke="#1a1a1a" stroke-width="0.2">Flag</text>
<text x="69.9" y="424.6" font-size="12" text-anchor="end" font-weight="normal" fill="#1a1a1a" stroke="#1a1a1a" stroke-width="0.2">HA</text>
<text x="70.4" y="455.6" font-size="12" text-anchor="end" font-weight="normal" fill="#1a1a1a" stroke="#1a1a1a" stroke-width="0.2">GAPDH</text>
<text x="0" y="0" font-size="11.8" text-anchor="middle" fill="#1a1a1a" stroke="#1a1a1a" stroke-width="0.2" transform="translate(35.4 342.0) rotate(-90)">IP:HA</text>
<text x="0" y="0" font-size="11.8" text-anchor="middle" fill="#1a1a1a" stroke="#1a1a1a" stroke-width="0.2" transform="translate(35.5 405.0) rotate(-90)">Input</text>
<line x1="40.8" y1="318.6" x2="40.8" y2="367.4" stroke="#333" stroke-width="1.2"/>
<line x1="41.0" y1="381.2" x2="41.0" y2="429.9" stroke="#333" stroke-width="1.2"/>
<line x1="153.3" y1="327.7" x2="157.8" y2="327.7" stroke="#222" stroke-width="1.1"/>
<text x="0" y="0" font-size="10" text-anchor="start" font-weight="normal" fill="#222" stroke="#222" stroke-width="0.3" transform="translate(158.10 331.28) scale(1 0.95)">130 kDa</text>
<line x1="153.3" y1="360.7" x2="157.8" y2="360.7" stroke="#222" stroke-width="1.1"/>
<text x="0" y="0" font-size="10" text-anchor="start" font-weight="normal" fill="#222" stroke="#222" stroke-width="0.3" transform="translate(158.10 364.28) scale(1 0.95)">16 kDa</text>
<line x1="153.3" y1="389.4" x2="157.8" y2="389.4" stroke="#222" stroke-width="1.1"/>
<text x="0" y="0" font-size="10" text-anchor="start" font-weight="normal" fill="#222" stroke="#222" stroke-width="0.3" transform="translate(158.10 392.98) scale(1 0.95)">130 kDa</text>
<line x1="153.3" y1="420.8" x2="157.8" y2="420.8" stroke="#222" stroke-width="1.1"/>
<text x="0" y="0" font-size="10" text-anchor="start" font-weight="normal" fill="#222" stroke="#222" stroke-width="0.3" transform="translate(158.10 424.38) scale(1 0.95)">16 kDa</text>
<line x1="153.3" y1="451.0" x2="157.8" y2="451.0" stroke="#222" stroke-width="1.1"/>
<text x="0" y="0" font-size="10" text-anchor="start" font-weight="normal" fill="#222" stroke="#222" stroke-width="0.3" transform="translate(158.10 454.58) scale(1 0.95)">36 kDa</text>
<text x="250.7" y="293.7" font-size="12" text-anchor="end" font-weight="normal" fill="#1a1a1a" stroke="#1a1a1a" stroke-width="0.2">HA-Ninj2</text>
<text x="250.0" y="310.2" font-size="12" text-anchor="end" font-weight="normal" fill="#1a1a1a" stroke="#1a1a1a" stroke-width="0.2">Flag-Itgb1</text>
<text x="281.1" y="294.4" font-size="12" text-anchor="middle" font-weight="normal" fill="#1a1a1a" stroke="#1a1a1a" stroke-width="0.2">-</text>
<text x="315.5" y="294.4" font-size="12" text-anchor="middle" font-weight="normal" fill="#1a1a1a" stroke="#1a1a1a" stroke-width="0.2">+</text>
<text x="281.1" y="310.9" font-size="12" text-anchor="middle" font-weight="normal" fill="#1a1a1a" stroke="#1a1a1a" stroke-width="0.2">+</text>
<text x="315.5" y="310.9" font-size="12" text-anchor="middle" font-weight="normal" fill="#1a1a1a" stroke="#1a1a1a" stroke-width="0.2">+</text>
<rect x="257.3" y="315.6" width="77.5" height="26.0" fill="#f1f1f1"/>
<g clip-path="url(#cf1)">
<rect x="266.0" y="316.0" width="30.0" height="10.0" fill="#999" opacity="0.6" filter="url(#b22)"/>
<rect x="300.0" y="316.0" width="31.0" height="10.0" fill="#999" opacity="0.55" filter="url(#b22)"/>
<polygon points="268.5,329.1 269.1,325.7 269.8,325.3 270.4,325.1 271.0,325.0 271.7,324.9 272.3,324.8 272.9,324.7 273.6,324.7 274.2,324.6 274.8,324.6 275.5,324.6 276.1,324.6 276.7,324.6 277.4,324.6 278.0,324.6 278.6,324.6 279.3,324.6 279.9,324.6 280.5,324.6 281.1,324.6 281.8,324.6 282.4,324.6 283.0,324.6 283.7,324.6 284.3,324.6 284.9,324.6 285.6,324.6 286.2,324.6 286.8,324.6 287.5,324.6 288.1,324.6 288.7,324.7 289.4,324.7 290.0,324.8 290.6,324.9 291.3,325.0 291.9,325.1 292.5,325.3 293.2,325.7 293.8,329.1 293.8,329.1 293.2,332.5 292.5,332.9 291.9,333.1 291.3,333.2 290.6,333.3 290.0,333.4 289.4,333.5 288.7,333.5 288.1,333.6 287.5,333.6 286.8,333.6 286.2,333.6 285.6,333.6 284.9,333.6 284.3,333.6 283.7,333.6 283.0,333.6 282.4,333.6 281.8,333.6 281.1,333.6 280.5,333.6 279.9,333.6 279.3,333.6 278.6,333.6 278.0,333.6 277.4,333.6 276.7,333.6 276.1,333.6 275.5,333.6 274.8,333.6 274.2,333.6 273.6,333.5 272.9,333.5 272.3,333.4 271.7,333.3 271.0,333.2 270.4,333.1 269.8,332.9 269.1,332.5 268.5,329.1" fill="#000" opacity="1.0" filter="url(#b9)"/>
<polygon points="302.4,329.3 303.1,327.3 303.7,327.1 304.4,326.9 305.1,326.8 305.8,326.6 306.4,326.5 307.1,326.4 307.8,326.4 308.4,326.3 309.1,326.3 309.8,326.3 310.4,326.3 311.1,326.2 311.8,326.2 312.4,326.2 313.1,326.1 313.8,326.1 314.5,326.1 315.1,326.1 315.8,326.1 316.5,326.1 317.1,326.1 317.8,326.1 318.5,326.1 319.1,326.1 319.8,326.1 320.5,326.1 321.2,326.1 321.8,326.1 322.5,326.1 323.2,326.1 323.8,326.0 324.5,326.0 325.2,326.0 325.8,326.0 326.5,326.1 327.2,326.1 327.9,326.2 328.5,326.5 329.2,329.3 329.2,329.3 328.5,332.1 327.9,332.4 327.2,332.5 326.5,332.5 325.8,332.6 325.2,332.6 324.5,332.6 323.8,332.6 323.2,332.5 322.5,332.5 321.8,332.5 321.2,332.5 320.5,332.5 319.8,332.5 319.1,332.5 318.5,332.5 317.8,332.5 317.1,332.5 316.5,332.5 315.8,332.6 315.1,332.5 314.5,332.5 313.8,332.5 313.1,332.5 312.4,332.4 311.8,332.4 311.1,332.4 310.4,332.3 309.8,332.3 309.1,332.3 308.4,332.3 307.8,332.2 307.1,332.2 306.4,332.1 305.8,332.0 305.1,331.8 304.4,331.7 303.7,331.5 303.1,331.3 302.4,329.3" fill="#000" opacity="1.0" filter="url(#b9)"/>
</g>
<rect x="257.3" y="315.6" width="77.5" height="26.0" fill="none" stroke="#2a2a2a" stroke-width="1.3"/>
<rect x="257.3" y="347.3" width="77.5" height="25.8" fill="#f6f6f6"/>
<g clip-path="url(#cf2)">
<polygon points="298.4,360.2 299.2,356.5 299.9,355.6 300.7,355.0 301.4,354.6 302.2,354.2 302.9,353.8 303.7,353.6 304.4,353.3 305.2,353.2 305.9,353.0 306.7,352.9 307.4,352.9 308.2,352.8 308.9,352.8 309.7,352.7 310.4,352.7 311.2,352.7 311.9,352.7 312.7,352.7 313.4,352.7 314.2,352.7 315.0,352.7 315.7,352.8 316.5,352.8 317.2,352.9 318.0,352.9 318.7,353.0 319.5,353.1 320.2,353.2 321.0,353.3 321.7,353.4 322.5,353.6 323.2,353.8 324.0,354.1 324.7,354.5 325.5,354.9 326.2,355.3 327.0,355.9 327.7,356.8 328.5,360.2 328.5,360.2 327.7,363.6 327.0,364.5 326.2,365.1 325.5,365.5 324.7,365.9 324.0,366.3 323.2,366.6 322.5,366.8 321.7,367.0 321.0,367.1 320.2,367.2 319.5,367.3 318.7,367.4 318.0,367.5 317.2,367.5 316.5,367.6 315.7,367.6 315.0,367.7 314.2,367.7 313.4,367.7 312.7,367.7 311.9,367.7 311.2,367.7 310.4,367.7 309.7,367.7 308.9,367.6 308.2,367.6 307.4,367.5 306.7,367.5 305.9,367.4 305.2,367.2 304.4,367.1 303.7,366.8 302.9,366.6 302.2,366.2 301.4,365.8 300.7,365.4 299.9,364.8 299.2,363.9 298.4,360.2" fill="#000" opacity="1.0" filter="url(#b9)"/>
</g>
<rect x="257.3" y="347.3" width="77.5" height="25.8" fill="none" stroke="#2a2a2a" stroke-width="1.3"/>
<rect x="257.3" y="378.7" width="77.5" height="25.5" fill="#efefef"/>
<g clip-path="url(#cf3)">
<rect x="260.0" y="380.0" width="71.0" height="6.0" fill="#bbb" opacity="0.4" filter="url(#b20)"/>
<polygon points="260.9,389.6 261.6,387.0 262.2,386.7 262.9,386.5 263.5,386.4 264.2,386.3 264.9,386.3 265.5,386.2 266.2,386.2 266.8,386.1 267.5,386.1 268.2,386.1 268.8,386.1 269.5,386.1 270.1,386.1 270.8,386.1 271.5,386.1 272.1,386.1 272.8,386.1 273.4,386.1 274.1,386.1 274.8,386.1 275.4,386.1 276.1,386.2 276.7,386.2 277.4,386.2 278.1,386.3 278.7,386.3 279.4,386.3 280.0,386.3 280.7,386.4 281.4,386.4 282.0,386.4 282.7,386.4 283.3,386.5 284.0,386.6 284.7,386.7 285.3,386.8 286.0,386.9 286.6,387.2 287.3,389.6 287.3,389.6 286.6,392.0 286.0,392.3 285.3,392.4 284.7,392.5 284.0,392.6 283.3,392.7 282.7,392.8 282.0,392.8 281.4,392.8 280.7,392.8 280.0,392.9 279.4,392.9 278.7,392.9 278.1,392.9 277.4,393.0 276.7,393.0 276.1,393.0 275.4,393.1 274.8,393.1 274.1,393.1 273.4,393.1 272.8,393.1 272.1,393.1 271.5,393.1 270.8,393.1 270.1,393.1 269.5,393.1 268.8,393.1 268.2,393.1 267.5,393.1 266.8,393.1 266.2,393.0 265.5,393.0 264.9,392.9 264.2,392.9 263.5,392.8 262.9,392.7 262.2,392.5 261.6,392.2 260.9,389.6" fill="#000" opacity="1.0" filter="url(#b9)"/>
<polygon points="295.2,388.8 296.1,386.0 296.9,385.7 297.8,385.5 298.7,385.3 299.6,385.2 300.4,385.1 301.3,385.0 302.2,384.9 303.0,384.8 303.9,384.8 304.8,384.8 305.6,384.8 306.5,384.8 307.4,384.8 308.2,384.8 309.1,384.8 310.0,384.8 310.9,384.8 311.7,384.8 312.6,384.8 313.5,384.8 314.3,384.8 315.2,384.8 316.1,384.8 316.9,384.8 317.8,384.8 318.7,384.8 319.6,384.8 320.4,384.8 321.3,384.8 322.2,384.8 323.0,384.8 323.9,384.8 324.8,384.8 325.6,384.8 326.5,384.8 327.4,384.9 328.3,385.1 329.1,385.4 330.0,388.8 330.0,388.8 329.1,392.2 328.3,392.5 327.4,392.7 326.5,392.8 325.6,392.8 324.8,392.8 323.9,392.8 323.0,392.8 322.2,392.8 321.3,392.8 320.4,392.8 319.6,392.8 318.7,392.8 317.8,392.8 316.9,392.8 316.1,392.8 315.2,392.8 314.3,392.8 313.5,392.8 312.6,392.8 311.7,392.8 310.9,392.8 310.0,392.8 309.1,392.8 308.2,392.8 307.4,392.8 306.5,392.8 305.6,392.8 304.8,392.8 303.9,392.8 303.0,392.8 302.2,392.7 301.3,392.6 300.4,392.5 299.6,392.4 298.7,392.3 297.8,392.1 296.9,391.9 296.1,391.6 295.2,388.8" fill="#000" opacity="1.0" filter="url(#b9)"/>
</g>
<rect x="257.3" y="378.7" width="77.5" height="25.5" fill="none" stroke="#2a2a2a" stroke-width="1.3"/>
<rect x="257.3" y="410.0" width="77.5" height="25.9" fill="#f4f4f4"/>
<g clip-path="url(#cf4)">
<polygon points="293.0,425.0 293.9,420.2 294.8,419.4 295.8,418.9 296.7,418.6 297.6,418.3 298.5,418.1 299.4,417.9 300.4,417.8 301.3,417.7 302.2,417.6 303.1,417.6 304.0,417.5 305.0,417.5 305.9,417.5 306.8,417.5 307.7,417.5 308.6,417.5 309.6,417.5 310.5,417.5 311.4,417.5 312.3,417.5 313.2,417.5 314.2,417.5 315.1,417.5 316.0,417.5 316.9,417.5 317.8,417.5 318.8,417.5 319.7,417.6 320.6,417.6 321.5,417.7 322.4,417.8 323.4,417.9 324.3,418.1 325.2,418.3 326.1,418.6 327.0,418.9 328.0,419.4 328.9,420.2 329.8,425.0 329.8,425.0 328.9,429.8 328.0,430.6 327.0,431.1 326.1,431.4 325.2,431.7 324.3,431.9 323.4,432.1 322.4,432.2 321.5,432.3 320.6,432.4 319.7,432.4 318.8,432.5 317.8,432.5 316.9,432.5 316.0,432.5 315.1,432.5 314.2,432.5 313.2,432.5 312.3,432.5 311.4,432.5 310.5,432.5 309.6,432.5 308.6,432.5 307.7,432.5 306.8,432.5 305.9,432.5 305.0,432.5 304.0,432.5 303.1,432.4 302.2,432.4 301.3,432.3 300.4,432.2 299.4,432.1 298.5,431.9 297.6,431.7 296.7,431.4 295.8,431.1 294.8,430.6 293.9,429.8 293.0,425.0" fill="#000" opacity="1.0" filter="url(#b9)"/>
</g>
<rect x="257.3" y="410.0" width="77.5" height="25.9" fill="none" stroke="#2a2a2a" stroke-width="1.3"/>
<rect x="257.3" y="441.4" width="77.5" height="25.9" fill="#ececec"/>
<g clip-path="url(#cf5)">
<rect x="262.0" y="443.0" width="69.0" height="5.0" fill="#bbb" opacity="0.4" filter="url(#b20)"/>
<polygon points="264.4,453.8 265.2,449.9 266.0,449.2 266.8,448.8 267.6,448.5 268.3,448.2 269.1,448.0 269.9,447.9 270.7,447.8 271.5,447.7 272.3,447.7 273.1,447.6 273.9,447.6 274.7,447.5 275.5,447.5 276.2,447.4 277.0,447.4 277.8,447.3 278.6,447.3 279.4,447.3 280.2,447.3 281.0,447.3 281.8,447.4 282.6,447.4 283.4,447.4 284.1,447.4 284.9,447.5 285.7,447.5 286.5,447.5 287.3,447.6 288.1,447.7 288.9,447.8 289.7,447.9 290.5,448.1 291.3,448.3 292.1,448.5 292.8,448.8 293.6,449.2 294.4,449.7 295.2,450.5 296.0,454.8 296.0,454.8 295.2,459.0 294.4,459.8 293.6,460.2 292.8,460.6 292.1,460.8 291.3,461.0 290.5,461.2 289.7,461.3 288.9,461.4 288.1,461.4 287.3,461.5 286.5,461.5 285.7,461.4 284.9,461.4 284.1,461.4 283.4,461.4 282.6,461.4 281.8,461.3 281.0,461.3 280.2,461.3 279.4,461.3 278.6,461.2 277.8,461.1 277.0,461.0 276.2,460.9 275.5,460.8 274.7,460.7 273.9,460.6 273.1,460.5 272.3,460.4 271.5,460.4 270.7,460.2 269.9,460.1 269.1,459.9 268.3,459.6 267.6,459.3 266.8,459.0 266.0,458.5 265.2,457.8 264.4,453.8" fill="#000" opacity="1.0" filter="url(#b10)"/>
<polygon points="298.7,454.2 299.5,451.6 300.2,451.1 301.0,450.8 301.8,450.5 302.5,450.3 303.3,450.2 304.1,450.0 304.8,449.9 305.6,449.8 306.4,449.8 307.1,449.7 307.9,449.7 308.7,449.7 309.4,449.7 310.2,449.7 311.0,449.7 311.7,449.7 312.5,449.7 313.3,449.7 314.0,449.7 314.8,449.7 315.6,449.7 316.4,449.7 317.1,449.7 317.9,449.7 318.7,449.7 319.4,449.7 320.2,449.7 321.0,449.7 321.7,449.8 322.5,449.8 323.3,449.8 324.0,449.8 324.8,449.8 325.6,449.9 326.3,450.0 327.1,450.1 327.9,450.4 328.6,450.9 329.4,454.2 329.4,454.2 328.6,457.5 327.9,458.0 327.1,458.3 326.3,458.4 325.6,458.5 324.8,458.6 324.0,458.6 323.3,458.6 322.5,458.6 321.7,458.6 321.0,458.7 320.2,458.7 319.4,458.7 318.7,458.7 317.9,458.7 317.1,458.7 316.4,458.7 315.6,458.7 314.8,458.7 314.0,458.7 313.3,458.7 312.5,458.7 311.7,458.7 311.0,458.7 310.2,458.7 309.4,458.7 308.7,458.7 307.9,458.7 307.1,458.7 306.4,458.6 305.6,458.6 304.8,458.5 304.1,458.4 303.3,458.2 302.5,458.1 301.8,457.9 301.0,457.6 300.2,457.3 299.5,456.8 298.7,454.2" fill="#000" opacity="1.0" filter="url(#b10)"/>
</g>
<rect x="257.3" y="441.4" width="77.5" height="25.9" fill="none" stroke="#2a2a2a" stroke-width="1.3"/>
<text x="250.0" y="332.6" font-size="12" text-anchor="end" font-weight="normal" fill="#1a1a1a" stroke="#1a1a1a" stroke-width="0.2">Flag</text>
<text x="250.0" y="364.0" font-size="12" text-anchor="end" font-weight="normal" fill="#1a1a1a" stroke="#1a1a1a" stroke-width="0.2">HA</text>
<text x="250.0" y="395.3" font-size="12" text-anchor="end" font-weight="normal" fill="#1a1a1a" stroke="#1a1a1a" stroke-width="0.2">Flag</text>
<text x="250.0" y="427.4" font-size="12" text-anchor="end" font-weight="normal" fill="#1a1a1a" stroke="#1a1a1a" stroke-width="0.2">HA</text>
<text x="250.0" y="458.8" font-size="12" text-anchor="end" font-weight="normal" fill="#1a1a1a" stroke="#1a1a1a" stroke-width="0.2">GAPDH</text>
<text x="0" y="0" font-size="11.8" text-anchor="middle" fill="#1a1a1a" stroke="#1a1a1a" stroke-width="0.2" transform="translate(215.9 345.0) rotate(-90)">IP:Flag</text>
<text x="0" y="0" font-size="11.8" text-anchor="middle" fill="#1a1a1a" stroke="#1a1a1a" stroke-width="0.2" transform="translate(214.8 409.0) rotate(-90)">Input</text>
<line x1="220.4" y1="323.0" x2="220.4" y2="370.7" stroke="#333" stroke-width="1.2"/>
<line x1="220.4" y1="384.2" x2="220.4" y2="432.3" stroke="#333" stroke-width="1.2"/>
<line x1="335.4" y1="330.7" x2="339.9" y2="330.7" stroke="#222" stroke-width="1.1"/>
<text x="0" y="0" font-size="10" text-anchor="start" font-weight="normal" fill="#222" stroke="#222" stroke-width="0.3" transform="translate(340.20 334.28) scale(1 0.95)">130 kDa</text>
<line x1="335.4" y1="362.7" x2="339.9" y2="362.7" stroke="#222" stroke-width="1.1"/>
<text x="0" y="0" font-size="10" text-anchor="start" font-weight="normal" fill="#222" stroke="#222" stroke-width="0.3" transform="translate(340.20 366.28) scale(1 0.95)">16 kDa</text>
<line x1="335.4" y1="391.0" x2="339.9" y2="391.0" stroke="#222" stroke-width="1.1"/>
<text x="0" y="0" font-size="10" text-anchor="start" font-weight="normal" fill="#222" stroke="#222" stroke-width="0.3" transform="translate(340.20 394.58) scale(1 0.95)">130 kDa</text>
<line x1="335.4" y1="424.5" x2="339.9" y2="424.5" stroke="#222" stroke-width="1.1"/>
<text x="0" y="0" font-size="10" text-anchor="start" font-weight="normal" fill="#222" stroke="#222" stroke-width="0.3" transform="translate(340.20 428.08) scale(1 0.95)">16 kDa</text>
<line x1="335.4" y1="453.6" x2="339.9" y2="453.6" stroke="#222" stroke-width="1.1"/>
<text x="0" y="0" font-size="10" text-anchor="start" font-weight="normal" fill="#222" stroke="#222" stroke-width="0.3" transform="translate(340.20 457.18) scale(1 0.95)">36 kDa</text>
<text x="443.3" y="309.5" font-size="12" text-anchor="end" font-weight="normal" fill="#1a1a1a" stroke="#1a1a1a" stroke-width="0.2">HA-Ninj2</text>
<text x="469.8" y="310.2" font-size="12" text-anchor="middle" font-weight="normal" fill="#1a1a1a" stroke="#1a1a1a" stroke-width="0.2">-</text>
<text x="505.8" y="310.2" font-size="12" text-anchor="middle" font-weight="normal" fill="#1a1a1a" stroke="#1a1a1a" stroke-width="0.2">+</text>
<rect x="450.4" y="319.4" width="77.6" height="26.2" fill="#f7f7f7"/>
<g clip-path="url(#cg1)">
<rect x="480.0" y="322.0" width="12.0" height="21.0" fill="#ccc" opacity="0.35" filter="url(#b35)"/>
<polygon points="491.5,332.1 492.2,326.8 492.9,326.0 493.6,325.4 494.3,325.0 495.0,324.7 495.7,324.5 496.4,324.3 497.1,324.2 497.8,324.1 498.4,324.0 499.1,323.9 499.8,323.9 500.5,323.9 501.2,323.9 501.9,323.9 502.6,323.9 503.3,323.9 504.0,323.9 504.7,323.9 505.4,323.9 506.1,323.9 506.8,323.9 507.5,323.9 508.2,323.9 508.9,324.0 509.6,324.0 510.3,324.1 511.0,324.1 511.7,324.2 512.3,324.2 513.0,324.3 513.7,324.4 514.4,324.6 515.1,324.8 515.8,325.1 516.5,325.4 517.2,325.8 517.9,326.3 518.6,327.2 519.3,332.1 519.3,332.1 518.6,337.0 517.9,337.9 517.2,338.4 516.5,338.8 515.8,339.1 515.1,339.4 514.4,339.6 513.7,339.8 513.0,339.9 512.3,340.0 511.7,340.0 511.0,340.1 510.3,340.1 509.6,340.2 508.9,340.2 508.2,340.3 507.5,340.3 506.8,340.3 506.1,340.3 505.4,340.4 504.7,340.3 504.0,340.3 503.3,340.3 502.6,340.3 501.9,340.3 501.2,340.3 500.5,340.3 499.8,340.3 499.1,340.3 498.4,340.2 497.8,340.1 497.1,340.0 496.4,339.9 495.7,339.7 495.0,339.5 494.3,339.2 493.6,338.8 492.9,338.2 492.2,337.4 491.5,332.1" fill="#000" opacity="1.0" filter="url(#b10)"/>
</g>
<rect x="450.4" y="319.4" width="77.6" height="26.2" fill="none" stroke="#2a2a2a" stroke-width="1.3"/>
<rect x="450.4" y="355.4" width="77.6" height="25.1" fill="#d0d0d0"/>
<g clip-path="url(#cg2)">
<rect x="455.0" y="358.0" width="69.0" height="20.0" fill="#c0c0c0" opacity="0.5" filter="url(#b30)"/>
<polygon points="478.0,366.8 479.2,365.2 480.4,364.8 481.6,364.4 482.8,364.0 484.0,363.7 485.2,363.3 486.4,363.0 487.6,362.8 488.8,362.6 490.0,362.5 491.2,362.4 492.4,362.3 493.6,362.3 494.8,362.2 496.0,362.1 497.2,362.0 498.4,361.9 499.6,361.9 500.8,361.8 502.0,361.8 503.2,361.8 504.4,361.8 505.6,361.8 506.8,361.8 508.0,361.8 509.2,361.8 510.4,361.9 511.6,361.9 512.8,362.0 514.0,362.0 515.2,362.1 516.4,362.2 517.6,362.4 518.8,362.6 520.0,362.8 521.2,363.1 522.4,363.4 523.6,363.9 524.8,364.4 526.0,366.8 526.0,366.8 524.8,369.2 523.6,369.7 522.4,370.2 521.2,370.5 520.0,370.8 518.8,371.0 517.6,371.2 516.4,371.4 515.2,371.5 514.0,371.6 512.8,371.6 511.6,371.7 510.4,371.7 509.2,371.8 508.0,371.8 506.8,371.8 505.6,371.8 504.4,371.8 503.2,371.8 502.0,371.8 500.8,371.8 499.6,371.7 498.4,371.7 497.2,371.6 496.0,371.5 494.8,371.4 493.6,371.3 492.4,371.3 491.2,371.2 490.0,371.1 488.8,371.0 487.6,370.8 486.4,370.6 485.2,370.3 484.0,369.9 482.8,369.6 481.6,369.2 480.4,368.8 479.2,368.4 478.0,366.8" fill="#777" opacity="0.6" filter="url(#b22)"/>
<rect x="452.0" y="357.0" width="74.0" height="22.0" fill="#000" filter="url(#noise3)" opacity="0.16"/>
</g>
<rect x="450.4" y="355.4" width="77.6" height="25.1" fill="none" stroke="#2a2a2a" stroke-width="1.3"/>
<rect x="450.4" y="389.7" width="77.6" height="24.9" fill="#f5f5f5"/>
<g clip-path="url(#cg3)">
<rect x="490.0" y="403.0" width="32.0" height="6.0" fill="#ccc" opacity="0.5" filter="url(#b20)"/>
<polygon points="493.5,400.4 494.1,398.6 494.8,398.4 495.4,398.3 496.1,398.2 496.7,398.1 497.4,398.0 498.0,398.0 498.7,397.9 499.3,397.9 499.9,397.9 500.6,397.9 501.2,397.9 501.9,397.9 502.5,397.9 503.2,397.9 503.8,397.9 504.5,397.9 505.1,397.9 505.8,397.9 506.4,397.9 507.0,397.9 507.7,397.9 508.3,397.9 509.0,397.9 509.6,397.9 510.3,397.9 510.9,397.9 511.6,397.9 512.2,397.9 512.8,397.9 513.5,397.9 514.1,397.9 514.8,398.0 515.4,398.0 516.1,398.1 516.7,398.2 517.4,398.3 518.0,398.4 518.7,398.6 519.3,400.4 519.3,400.4 518.7,402.2 518.0,402.4 517.4,402.5 516.7,402.6 516.1,402.7 515.4,402.8 514.8,402.8 514.1,402.9 513.5,402.9 512.8,402.9 512.2,402.9 511.6,402.9 510.9,402.9 510.3,402.9 509.6,402.9 509.0,402.9 508.3,402.9 507.7,402.9 507.0,402.9 506.4,402.9 505.8,402.9 505.1,402.9 504.5,402.9 503.8,402.9 503.2,402.9 502.5,402.9 501.9,402.9 501.2,402.9 500.6,402.9 499.9,402.9 499.3,402.9 498.7,402.9 498.0,402.8 497.4,402.8 496.7,402.7 496.1,402.6 495.4,402.5 494.8,402.4 494.1,402.2 493.5,400.4" fill="#000" opacity="1.0" filter="url(#b9)"/>
<circle cx="469.7" cy="411.9" r="0.9" fill="#555"/>
</g>
<rect x="450.4" y="389.7" width="77.6" height="24.9" fill="none" stroke="#2a2a2a" stroke-width="1.3"/>
<rect x="450.4" y="425.0" width="77.6" height="25.3" fill="#cdcdcd"/>
<g clip-path="url(#cg4)">
<rect x="452.0" y="427.0" width="74.0" height="22.0" fill="#e0e0e0" opacity="0.35" filter="url(#b30)"/>
<polygon points="457.2,439.1 457.5,437.4 457.8,437.0 458.2,436.7 458.5,436.5 458.8,436.4 459.1,436.2 459.4,436.1 459.8,436.0 460.1,435.9 460.4,435.9 460.7,435.8 461.0,435.8 461.4,435.7 461.7,435.7 462.0,435.7 462.3,435.6 462.6,435.6 463.0,435.6 463.3,435.6 463.6,435.6 463.9,435.6 464.2,435.6 464.6,435.6 464.9,435.6 465.2,435.7 465.5,435.7 465.8,435.7 466.2,435.8 466.5,435.8 466.8,435.9 467.1,435.9 467.4,436.0 467.8,436.1 468.1,436.2 468.4,436.4 468.7,436.5 469.0,436.7 469.4,437.0 469.7,437.4 470.0,439.1 470.0,439.1 469.7,440.8 469.4,441.2 469.0,441.5 468.7,441.7 468.4,441.8 468.1,442.0 467.8,442.1 467.4,442.2 467.1,442.3 466.8,442.3 466.5,442.4 466.2,442.4 465.8,442.5 465.5,442.5 465.2,442.5 464.9,442.6 464.6,442.6 464.2,442.6 463.9,442.6 463.6,442.6 463.3,442.6 463.0,442.6 462.6,442.6 462.3,442.6 462.0,442.5 461.7,442.5 461.4,442.5 461.0,442.4 460.7,442.4 460.4,442.3 460.1,442.3 459.8,442.2 459.4,442.1 459.1,442.0 458.8,441.8 458.5,441.7 458.2,441.5 457.8,441.2 457.5,440.8 457.2,439.1" fill="#000" opacity="1.0" filter="url(#b11)"/>
<polygon points="466.0,439.3 466.4,437.8 466.8,437.6 467.2,437.4 467.6,437.4 468.1,437.3 468.5,437.2 468.9,437.2 469.3,437.2 469.7,437.2 470.1,437.2 470.5,437.2 470.9,437.2 471.4,437.2 471.8,437.3 472.2,437.3 472.6,437.3 473.0,437.3 473.4,437.3 473.8,437.3 474.2,437.3 474.7,437.3 475.1,437.3 475.5,437.3 475.9,437.3 476.3,437.3 476.7,437.4 477.1,437.4 477.6,437.4 478.0,437.4 478.4,437.5 478.8,437.5 479.2,437.5 479.6,437.6 480.0,437.6 480.4,437.7 480.9,437.7 481.3,437.8 481.7,438.0 482.1,438.2 482.5,439.3 482.5,439.3 482.1,440.4 481.7,440.6 481.3,440.8 480.9,440.9 480.4,440.9 480.0,441.0 479.6,441.0 479.2,441.1 478.8,441.1 478.4,441.1 478.0,441.2 477.6,441.2 477.1,441.2 476.7,441.2 476.3,441.3 475.9,441.3 475.5,441.3 475.1,441.3 474.7,441.3 474.2,441.3 473.8,441.3 473.4,441.3 473.0,441.3 472.6,441.3 472.2,441.3 471.8,441.3 471.4,441.4 470.9,441.4 470.5,441.4 470.1,441.4 469.7,441.4 469.3,441.4 468.9,441.4 468.5,441.4 468.1,441.3 467.6,441.2 467.2,441.2 466.8,441.0 466.4,440.8 466.0,439.3" fill="#333" opacity="0.85" filter="url(#b12)"/>
<polygon points="496.4,439.0 497.0,436.9 497.5,436.5 498.1,436.3 498.6,436.2 499.2,436.2 499.8,436.1 500.3,436.1 500.9,436.1 501.4,436.1 502.0,436.0 502.6,436.0 503.1,436.0 503.7,436.1 504.2,436.1 504.8,436.1 505.4,436.2 505.9,436.2 506.5,436.2 507.0,436.2 507.6,436.2 508.2,436.2 508.7,436.2 509.3,436.2 509.8,436.2 510.4,436.1 511.0,436.1 511.5,436.1 512.1,436.0 512.6,436.0 513.2,436.0 513.8,436.1 514.3,436.1 514.9,436.1 515.4,436.1 516.0,436.2 516.6,436.2 517.1,436.3 517.7,436.5 518.2,436.9 518.8,439.0 518.8,439.0 518.2,441.1 517.7,441.5 517.1,441.7 516.6,441.8 516.0,441.8 515.4,441.9 514.9,441.9 514.3,441.9 513.8,441.9 513.2,442.0 512.6,442.0 512.1,442.0 511.5,441.9 511.0,441.9 510.4,441.9 509.8,441.8 509.3,441.8 508.7,441.8 508.2,441.8 507.6,441.8 507.0,441.8 506.5,441.8 505.9,441.8 505.4,441.8 504.8,441.9 504.2,441.9 503.7,441.9 503.1,442.0 502.6,442.0 502.0,442.0 501.4,441.9 500.9,441.9 500.3,441.9 499.8,441.9 499.2,441.8 498.6,441.8 498.1,441.7 497.5,441.5 497.0,441.1 496.4,439.0" fill="#111" opacity="0.92" filter="url(#b11)"/>
</g>
<rect x="450.4" y="425.0" width="77.6" height="25.3" fill="none" stroke="#2a2a2a" stroke-width="1.3"/>
<rect x="450.4" y="459.7" width="77.6" height="26.1" fill="#e8e8e8"/>
<g clip-path="url(#cg5)">
<rect x="458.0" y="466.0" width="67.0" height="13.0" fill="#bbb" opacity="0.5" filter="url(#b30)"/>
<polygon points="461.5,472.7 462.2,470.2 462.9,469.8 463.6,469.5 464.3,469.3 465.0,469.2 465.7,469.0 466.5,468.9 467.2,468.9 467.9,468.8 468.6,468.8 469.3,468.7 470.0,468.7 470.7,468.7 471.4,468.7 472.1,468.7 472.8,468.7 473.5,468.7 474.2,468.7 474.9,468.7 475.6,468.7 476.4,468.7 477.1,468.7 477.8,468.7 478.5,468.7 479.2,468.7 479.9,468.7 480.6,468.7 481.3,468.7 482.0,468.7 482.7,468.8 483.4,468.8 484.1,468.9 484.8,468.9 485.6,469.0 486.3,469.2 487.0,469.3 487.7,469.5 488.4,469.8 489.1,470.2 489.8,472.7 489.8,472.7 489.1,475.2 488.4,475.6 487.7,475.9 487.0,476.1 486.3,476.2 485.6,476.4 484.8,476.5 484.1,476.5 483.4,476.6 482.7,476.6 482.0,476.7 481.3,476.7 480.6,476.7 479.9,476.7 479.2,476.7 478.5,476.7 477.8,476.7 477.1,476.7 476.4,476.7 475.6,476.7 474.9,476.7 474.2,476.7 473.5,476.7 472.8,476.7 472.1,476.7 471.4,476.7 470.7,476.7 470.0,476.7 469.3,476.7 468.6,476.6 467.9,476.6 467.2,476.5 466.5,476.5 465.7,476.4 465.0,476.2 464.3,476.1 463.6,475.9 462.9,475.6 462.2,475.2 461.5,472.7" fill="#000" opacity="1.0" filter="url(#b10)"/>
<polygon points="493.7,471.6 494.4,469.0 495.1,468.5 495.8,468.2 496.5,468.0 497.2,467.8 497.9,467.7 498.7,467.6 499.4,467.5 500.1,467.5 500.8,467.4 501.5,467.4 502.2,467.4 502.9,467.4 503.6,467.4 504.3,467.4 505.0,467.4 505.7,467.4 506.4,467.4 507.1,467.4 507.9,467.4 508.6,467.4 509.3,467.4 510.0,467.4 510.7,467.4 511.4,467.5 512.1,467.5 512.8,467.6 513.5,467.6 514.2,467.6 514.9,467.7 515.6,467.7 516.3,467.7 517.0,467.8 517.8,467.9 518.5,468.0 519.2,468.1 519.9,468.3 520.6,468.5 521.3,469.0 522.0,471.6 522.0,471.6 521.3,474.2 520.6,474.7 519.9,474.9 519.2,475.1 518.5,475.2 517.8,475.3 517.0,475.4 516.3,475.5 515.6,475.5 514.9,475.5 514.2,475.6 513.5,475.6 512.8,475.6 512.1,475.7 511.4,475.7 510.7,475.8 510.0,475.8 509.3,475.8 508.6,475.8 507.9,475.9 507.1,475.8 506.4,475.8 505.7,475.8 505.0,475.8 504.3,475.8 503.6,475.8 502.9,475.8 502.2,475.8 501.5,475.8 500.8,475.8 500.1,475.7 499.4,475.7 498.7,475.6 497.9,475.5 497.2,475.4 496.5,475.2 495.8,475.0 495.1,474.7 494.4,474.2 493.7,471.6" fill="#000" opacity="1.0" filter="url(#b10)"/>
</g>
<rect x="450.4" y="459.7" width="77.6" height="26.1" fill="none" stroke="#2a2a2a" stroke-width="1.3"/>
<text x="443.8" y="336.9" font-size="12" text-anchor="end" font-weight="normal" fill="#1a1a1a" stroke="#1a1a1a" stroke-width="0.2">HA</text>
<text x="443.5" y="371.8" font-size="12" text-anchor="end" font-weight="normal" fill="#1a1a1a" stroke="#1a1a1a" stroke-width="0.2">Itgb1</text>
<text x="443.8" y="408.4" font-size="12" text-anchor="end" font-weight="normal" fill="#1a1a1a" stroke="#1a1a1a" stroke-width="0.2">HA</text>
<text x="443.5" y="443.1" font-size="12" text-anchor="end" font-weight="normal" fill="#1a1a1a" stroke="#1a1a1a" stroke-width="0.2">Itgb1</text>
<text x="443.5" y="479.2" font-size="12" text-anchor="end" font-weight="normal" fill="#1a1a1a" stroke="#1a1a1a" stroke-width="0.2">GAPDH</text>
<text x="0" y="0" font-size="11.8" text-anchor="middle" fill="#1a1a1a" stroke="#1a1a1a" stroke-width="0.2" transform="translate(408.2 350.3) rotate(-90)">IP:HA</text>
<text x="0" y="0" font-size="11.8" text-anchor="middle" fill="#1a1a1a" stroke="#1a1a1a" stroke-width="0.2" transform="translate(407.5 418.6) rotate(-90)">Input</text>
<line x1="412.4" y1="324.4" x2="412.4" y2="373.2" stroke="#333" stroke-width="1.2"/>
<line x1="412.4" y1="396.4" x2="412.4" y2="444.5" stroke="#333" stroke-width="1.2"/>
<line x1="529.3" y1="335.8" x2="533.8" y2="335.8" stroke="#222" stroke-width="1.1"/>
<text x="0" y="0" font-size="10" text-anchor="start" font-weight="normal" fill="#222" stroke="#222" stroke-width="0.3" transform="translate(534.10 339.38) scale(1 0.95)">16 kDa</text>
<line x1="529.3" y1="366.2" x2="533.8" y2="366.2" stroke="#222" stroke-width="1.1"/>
<text x="0" y="0" font-size="10" text-anchor="start" font-weight="normal" fill="#222" stroke="#222" stroke-width="0.3" transform="translate(534.10 369.78) scale(1 0.95)">130 kDa</text>
<line x1="529.3" y1="401.5" x2="533.8" y2="401.5" stroke="#222" stroke-width="1.1"/>
<text x="0" y="0" font-size="10" text-anchor="start" font-weight="normal" fill="#222" stroke="#222" stroke-width="0.3" transform="translate(534.10 405.08) scale(1 0.95)">16 kDa</text>
<line x1="529.3" y1="439.5" x2="533.8" y2="439.5" stroke="#222" stroke-width="1.1"/>
<text x="0" y="0" font-size="10" text-anchor="start" font-weight="normal" fill="#222" stroke="#222" stroke-width="0.3" transform="translate(534.10 443.08) scale(1 0.95)">130 kDa</text>
<line x1="529.3" y1="470.6" x2="533.8" y2="470.6" stroke="#222" stroke-width="1.1"/>
<text x="0" y="0" font-size="10" text-anchor="start" font-weight="normal" fill="#222" stroke="#222" stroke-width="0.3" transform="translate(534.10 474.18) scale(1 0.95)">36 kDa</text>
<text x="644.8" y="225.3" font-size="12" text-anchor="end" font-weight="normal" fill="#1a1a1a" stroke="#1a1a1a" stroke-width="0.2">HA-Ninj2</text>
<text x="644.8" y="242.8" font-size="12" text-anchor="end" font-weight="normal" fill="#1a1a1a" stroke="#1a1a1a" stroke-width="0.2">Flag-Itgb1</text>
<text x="667.3" y="226.0" font-size="12" text-anchor="middle" font-weight="normal" fill="#1a1a1a" stroke="#1a1a1a" stroke-width="0.2">-</text>
<text x="704.1" y="226.0" font-size="12" text-anchor="middle" font-weight="normal" fill="#1a1a1a" stroke="#1a1a1a" stroke-width="0.2">-</text>
<text x="742.0" y="226.0" font-size="12" text-anchor="middle" font-weight="normal" fill="#1a1a1a" stroke="#1a1a1a" stroke-width="0.2">+</text>
<text x="667.3" y="243.5" font-size="12" text-anchor="middle" font-weight="normal" fill="#1a1a1a" stroke="#1a1a1a" stroke-width="0.2">-</text>
<text x="704.1" y="243.5" font-size="12" text-anchor="middle" font-weight="normal" fill="#1a1a1a" stroke="#1a1a1a" stroke-width="0.2">+</text>
<text x="742.0" y="243.5" font-size="12" text-anchor="middle" font-weight="normal" fill="#1a1a1a" stroke="#1a1a1a" stroke-width="0.2">+</text>
<rect x="649.2" y="251.5" width="114.5" height="25.7" fill="#cacaca"/>
<g clip-path="url(#ch1)">
<rect x="719.0" y="253.0" width="13.0" height="23.0" fill="#e6e6e6" opacity="0.6" filter="url(#b20)"/>
<defs><linearGradient id="lg1" x1="0" x2="1" y1="0" y2="0"><stop offset="0" stop-color="#000" stop-opacity="0.3"/><stop offset="0.6" stop-color="#000" stop-opacity="0.75"/><stop offset="1" stop-color="#000" stop-opacity="1"/></linearGradient></defs>
<polygon points="690.0,265.4 690.7,263.1 691.5,262.7 692.2,262.4 693.0,262.2 693.7,262.0 694.4,261.8 695.2,261.7 695.9,261.6 696.7,261.5 697.4,261.5 698.1,261.4 698.9,261.4 699.6,261.4 700.4,261.3 701.1,261.3 701.8,261.2 702.6,261.2 703.3,261.2 704.1,261.2 704.8,261.1 705.5,261.1 706.3,261.1 707.0,261.1 707.8,261.1 708.5,261.0 709.2,261.0 710.0,261.0 710.7,261.0 711.5,261.0 712.2,261.0 712.9,261.0 713.7,261.1 714.4,261.1 715.2,261.2 715.9,261.3 716.6,261.5 717.4,261.7 718.1,262.0 718.9,262.4 719.6,265.4 719.6,265.4 718.9,268.4 718.1,268.8 717.4,269.1 716.6,269.3 715.9,269.5 715.2,269.6 714.4,269.7 713.7,269.7 712.9,269.8 712.2,269.8 711.5,269.8 710.7,269.8 710.0,269.8 709.2,269.8 708.5,269.8 707.8,269.7 707.0,269.7 706.3,269.7 705.5,269.7 704.8,269.6 704.1,269.6 703.3,269.6 702.6,269.6 701.8,269.6 701.1,269.5 700.4,269.5 699.6,269.4 698.9,269.4 698.1,269.4 697.4,269.3 696.7,269.3 695.9,269.2 695.2,269.1 694.4,269.0 693.7,268.8 693.0,268.6 692.2,268.4 691.5,268.1 690.7,267.7 690.0,265.4" fill="url(#lg1)" opacity="1.0" filter="url(#b16)"/>
<polygon points="705.0,265.6 705.4,264.0 705.7,263.7 706.1,263.5 706.5,263.4 706.8,263.3 707.2,263.2 707.5,263.1 707.9,263.0 708.3,263.0 708.6,262.9 709.0,262.8 709.4,262.8 709.7,262.8 710.1,262.7 710.4,262.7 710.8,262.7 711.2,262.6 711.5,262.6 711.9,262.6 712.2,262.6 712.6,262.6 713.0,262.6 713.3,262.6 713.7,262.5 714.1,262.5 714.4,262.5 714.8,262.5 715.1,262.4 715.5,262.4 715.9,262.4 716.2,262.4 716.6,262.4 717.0,262.4 717.3,262.4 717.7,262.5 718.0,262.6 718.4,262.7 718.8,262.9 719.1,263.3 719.5,265.6 719.5,265.6 719.1,267.9 718.8,268.3 718.4,268.5 718.0,268.6 717.7,268.7 717.3,268.8 717.0,268.8 716.6,268.8 716.2,268.8 715.9,268.8 715.5,268.8 715.1,268.8 714.8,268.7 714.4,268.7 714.1,268.7 713.7,268.7 713.3,268.6 713.0,268.6 712.6,268.6 712.2,268.6 711.9,268.6 711.5,268.6 711.2,268.6 710.8,268.5 710.4,268.5 710.1,268.5 709.7,268.4 709.4,268.4 709.0,268.4 708.6,268.3 708.3,268.2 707.9,268.2 707.5,268.1 707.2,268.0 706.8,267.9 706.5,267.8 706.1,267.7 705.7,267.5 705.4,267.2 705.0,265.6" fill="#000" opacity="0.8" filter="url(#b13)"/>
<defs><linearGradient id="lg3" x1="0" x2="1" y1="0" y2="0"><stop offset="0" stop-color="#000" stop-opacity="0.85"/><stop offset="0.4" stop-color="#000" stop-opacity="0.6"/><stop offset="1" stop-color="#000" stop-opacity="0.45"/></linearGradient></defs>
<polygon points="733.5,268.0 734.2,266.0 734.8,265.7 735.5,265.6 736.1,265.5 736.8,265.5 737.5,265.5 738.1,265.5 738.8,265.5 739.5,265.5 740.1,265.5 740.8,265.5 741.5,265.5 742.1,265.6 742.8,265.6 743.4,265.6 744.1,265.7 744.8,265.7 745.4,265.7 746.1,265.7 746.8,265.8 747.4,265.8 748.1,265.8 748.7,265.8 749.4,265.8 750.1,265.8 750.7,265.8 751.4,265.8 752.0,265.8 752.7,265.8 753.4,265.8 754.0,265.8 754.7,265.8 755.4,265.8 756.0,265.8 756.7,265.8 757.4,265.9 758.0,266.0 758.7,266.1 759.3,266.4 760.0,268.0 760.0,268.0 759.3,269.6 758.7,269.9 758.0,270.0 757.4,270.1 756.7,270.2 756.0,270.2 755.4,270.2 754.7,270.2 754.0,270.2 753.4,270.2 752.7,270.2 752.0,270.2 751.4,270.2 750.7,270.2 750.1,270.2 749.4,270.2 748.7,270.2 748.1,270.2 747.4,270.2 746.8,270.2 746.1,270.3 745.4,270.3 744.8,270.3 744.1,270.3 743.4,270.4 742.8,270.4 742.1,270.4 741.5,270.5 740.8,270.5 740.1,270.5 739.5,270.5 738.8,270.5 738.1,270.5 737.5,270.5 736.8,270.5 736.1,270.5 735.5,270.4 734.8,270.3 734.2,270.0 733.5,268.0" fill="url(#lg3)" opacity="1.0" filter="url(#b15)"/>
<rect x="736.0" y="271.0" width="10.0" height="5.0" fill="#eee" opacity="0.7" filter="url(#b15)"/>
</g>
<rect x="649.2" y="251.5" width="114.5" height="25.7" fill="none" stroke="#2a2a2a" stroke-width="1.3"/>
<rect x="649.2" y="282.7" width="114.5" height="25.4" fill="#c4c4c4"/>
<g clip-path="url(#ch2)">
<rect x="686.0" y="297.0" width="31.0" height="12.0" fill="#e2e2e2" opacity="0.6" filter="url(#b15)"/>
<defs><linearGradient id="lg2" x1="0" x2="1" y1="0" y2="0"><stop offset="0" stop-color="#000" stop-opacity="0.9"/><stop offset="0.5" stop-color="#000" stop-opacity="0.75"/><stop offset="1" stop-color="#000" stop-opacity="1"/></linearGradient></defs>
<polygon points="686.4,294.3 687.2,292.7 687.9,292.4 688.7,292.3 689.4,292.3 690.2,292.3 691.0,292.3 691.7,292.3 692.5,292.3 693.2,292.3 694.0,292.3 694.8,292.3 695.5,292.3 696.3,292.3 697.0,292.3 697.8,292.3 698.6,292.3 699.3,292.3 700.1,292.3 700.8,292.3 701.6,292.3 702.4,292.3 703.1,292.2 703.9,292.2 704.6,292.1 705.4,292.1 706.2,292.0 706.9,291.9 707.7,291.9 708.4,291.8 709.2,291.8 710.0,291.8 710.7,291.8 711.5,291.8 712.2,291.7 713.0,291.7 713.8,291.7 714.5,291.7 715.3,291.9 716.0,292.2 716.8,294.3 716.8,294.3 716.0,296.4 715.3,296.7 714.5,296.9 713.8,296.9 713.0,296.9 712.2,296.9 711.5,296.8 710.7,296.8 710.0,296.8 709.2,296.8 708.4,296.8 707.7,296.7 706.9,296.7 706.2,296.6 705.4,296.5 704.6,296.5 703.9,296.4 703.1,296.4 702.4,296.3 701.6,296.3 700.8,296.3 700.1,296.3 699.3,296.3 698.6,296.3 697.8,296.3 697.0,296.3 696.3,296.3 695.5,296.3 694.8,296.3 694.0,296.3 693.2,296.3 692.5,296.3 691.7,296.3 691.0,296.3 690.2,296.3 689.4,296.3 688.7,296.3 687.9,296.2 687.2,295.9 686.4,294.3" fill="url(#lg2)" opacity="1.0" filter="url(#b10)"/>
<rect x="728.0" y="292.0" width="28.0" height="6.0" fill="#aaa" opacity="0.3" filter="url(#b20)"/>
<rect x="650.0" y="283.0" width="113.0" height="25.0" fill="#000" filter="url(#noise5)" opacity="0.12"/>
</g>
<rect x="649.2" y="282.7" width="114.5" height="25.4" fill="none" stroke="#2a2a2a" stroke-width="1.3"/>
<rect x="649.2" y="313.3" width="114.5" height="25.8" fill="#f4f4f4"/>
<g clip-path="url(#ch3)">
<rect x="686.0" y="314.0" width="77.0" height="25.0" fill="#e8e8e8" opacity="0.7" filter="url(#b10)"/>
<polygon points="688.7,326.1 689.4,324.4 690.1,324.2 690.9,324.1 691.6,323.9 692.3,323.9 693.0,323.8 693.8,323.7 694.5,323.7 695.2,323.6 695.9,323.6 696.6,323.6 697.4,323.6 698.1,323.6 698.8,323.6 699.5,323.6 700.3,323.6 701.0,323.6 701.7,323.6 702.4,323.6 703.2,323.6 703.9,323.6 704.6,323.6 705.3,323.6 706.0,323.6 706.8,323.6 707.5,323.6 708.2,323.6 708.9,323.6 709.7,323.6 710.4,323.6 711.1,323.6 711.8,323.6 712.5,323.7 713.3,323.7 714.0,323.7 714.7,323.8 715.4,323.9 716.2,324.0 716.9,324.2 717.6,326.1 717.6,326.1 716.9,328.0 716.2,328.2 715.4,328.3 714.7,328.4 714.0,328.5 713.3,328.5 712.5,328.5 711.8,328.6 711.1,328.6 710.4,328.6 709.7,328.6 708.9,328.6 708.2,328.6 707.5,328.6 706.8,328.6 706.0,328.6 705.3,328.6 704.6,328.6 703.9,328.6 703.2,328.6 702.4,328.6 701.7,328.6 701.0,328.6 700.3,328.6 699.5,328.6 698.8,328.6 698.1,328.6 697.4,328.6 696.6,328.6 695.9,328.6 695.2,328.6 694.5,328.5 693.8,328.5 693.0,328.4 692.3,328.3 691.6,328.3 690.9,328.1 690.1,328.0 689.4,327.8 688.7,326.1" fill="#000" opacity="1.0" filter="url(#b10)"/>
<polygon points="727.8,326.1 728.5,324.2 729.2,324.0 729.9,323.8 730.6,323.7 731.3,323.6 732.1,323.5 732.8,323.5 733.5,323.4 734.2,323.4 734.9,323.4 735.6,323.4 736.3,323.4 737.0,323.4 737.7,323.4 738.5,323.4 739.2,323.4 739.9,323.4 740.6,323.4 741.3,323.4 742.0,323.4 742.7,323.4 743.4,323.4 744.1,323.4 744.8,323.4 745.5,323.5 746.3,323.5 747.0,323.5 747.7,323.6 748.4,323.6 749.1,323.6 749.8,323.6 750.5,323.7 751.2,323.7 751.9,323.8 752.7,323.9 753.4,323.9 754.1,324.1 754.8,324.2 755.5,324.4 756.2,326.1 756.2,326.1 755.5,327.8 754.8,328.0 754.1,328.1 753.4,328.3 752.7,328.3 751.9,328.4 751.2,328.5 750.5,328.5 749.8,328.6 749.1,328.6 748.4,328.6 747.7,328.6 747.0,328.7 746.3,328.7 745.5,328.7 744.8,328.8 744.1,328.8 743.4,328.8 742.7,328.8 742.0,328.9 741.3,328.8 740.6,328.8 739.9,328.8 739.2,328.8 738.5,328.8 737.7,328.8 737.0,328.8 736.3,328.8 735.6,328.8 734.9,328.8 734.2,328.8 733.5,328.8 732.8,328.7 732.1,328.7 731.3,328.6 730.6,328.5 729.9,328.4 729.2,328.2 728.5,328.0 727.8,326.1" fill="#000" opacity="1.0" filter="url(#b10)"/>
</g>
<rect x="649.2" y="313.3" width="114.5" height="25.8" fill="none" stroke="#2a2a2a" stroke-width="1.3"/>
<rect x="649.2" y="345.2" width="114.5" height="25.6" fill="#f3f3f3"/>
<g clip-path="url(#ch4)">
<polygon points="730.6,356.7 731.2,355.2 731.8,355.0 732.4,354.9 733.0,354.8 733.6,354.7 734.1,354.6 734.7,354.6 735.3,354.5 735.9,354.5 736.5,354.5 737.1,354.5 737.7,354.5 738.3,354.5 738.9,354.5 739.5,354.5 740.0,354.5 740.6,354.5 741.2,354.5 741.8,354.5 742.4,354.4 743.0,354.5 743.6,354.5 744.2,354.5 744.8,354.5 745.4,354.5 745.9,354.5 746.5,354.5 747.1,354.5 747.7,354.5 748.3,354.5 748.9,354.5 749.5,354.5 750.1,354.6 750.7,354.6 751.2,354.7 751.8,354.8 752.4,354.9 753.0,355.0 753.6,355.2 754.2,356.7 754.2,356.7 753.6,358.2 753.0,358.4 752.4,358.5 751.8,358.6 751.2,358.7 750.7,358.8 750.1,358.8 749.5,358.9 748.9,358.9 748.3,358.9 747.7,358.9 747.1,358.9 746.5,358.9 745.9,358.9 745.4,358.9 744.8,358.9 744.2,358.9 743.6,358.9 743.0,358.9 742.4,358.9 741.8,358.9 741.2,358.9 740.6,358.9 740.0,358.9 739.5,358.9 738.9,358.9 738.3,358.9 737.7,358.9 737.1,358.9 736.5,358.9 735.9,358.9 735.3,358.9 734.7,358.8 734.1,358.8 733.6,358.7 733.0,358.6 732.4,358.5 731.8,358.4 731.2,358.2 730.6,356.7" fill="#1a1a1a" opacity="0.9" filter="url(#b11)"/>
</g>
<rect x="649.2" y="345.2" width="114.5" height="25.6" fill="none" stroke="#2a2a2a" stroke-width="1.3"/>
<rect x="649.2" y="375.9" width="114.5" height="25.6" fill="#dcdcdc"/>
<g clip-path="url(#ch5)">
<rect x="685.0" y="377.0" width="7.0" height="24.0" fill="#eee" opacity="0.5" filter="url(#b20)"/>
<rect x="722.0" y="377.0" width="7.0" height="24.0" fill="#eee" opacity="0.5" filter="url(#b20)"/>
<polygon points="656.0,389.5 656.7,386.9 657.4,386.5 658.1,386.2 658.8,386.1 659.5,386.0 660.2,385.9 660.9,385.9 661.6,385.9 662.3,385.8 663.0,385.8 663.7,385.8 664.4,385.8 665.1,385.8 665.8,385.8 666.5,385.8 667.2,385.8 667.9,385.8 668.6,385.8 669.3,385.8 670.0,385.8 670.7,385.7 671.4,385.7 672.1,385.7 672.8,385.7 673.5,385.6 674.2,385.6 674.9,385.6 675.6,385.6 676.3,385.5 677.0,385.6 677.7,385.6 678.4,385.6 679.1,385.6 679.8,385.7 680.5,385.7 681.2,385.9 681.9,386.0 682.6,386.3 683.3,386.7 684.0,389.5 684.0,389.5 683.3,392.3 682.6,392.7 681.9,393.0 681.2,393.1 680.5,393.3 679.8,393.3 679.1,393.4 678.4,393.4 677.7,393.4 677.0,393.4 676.3,393.5 675.6,393.4 674.9,393.4 674.2,393.4 673.5,393.4 672.8,393.3 672.1,393.3 671.4,393.3 670.7,393.3 670.0,393.2 669.3,393.2 668.6,393.2 667.9,393.2 667.2,393.2 666.5,393.2 665.8,393.2 665.1,393.2 664.4,393.2 663.7,393.2 663.0,393.2 662.3,393.2 661.6,393.1 660.9,393.1 660.2,393.1 659.5,393.0 658.8,392.9 658.1,392.8 657.4,392.5 656.7,392.1 656.0,389.5" fill="#6a6a6a" opacity="0.9" filter="url(#b15)"/>
<polygon points="657.0,387.5 657.7,386.4 658.3,386.2 659.0,386.1 659.6,386.0 660.3,386.0 661.0,386.0 661.6,386.0 662.3,386.0 663.0,386.0 663.6,386.0 664.3,386.0 665.0,386.0 665.6,386.0 666.3,386.0 666.9,386.0 667.6,386.0 668.3,386.0 668.9,386.0 669.6,386.0 670.2,386.0 670.9,386.0 671.6,386.0 672.2,385.9 672.9,385.9 673.6,385.9 674.2,385.8 674.9,385.8 675.5,385.8 676.2,385.8 676.9,385.8 677.5,385.8 678.2,385.8 678.9,385.7 679.5,385.7 680.2,385.7 680.9,385.7 681.5,385.7 682.2,385.8 682.8,386.0 683.5,387.5 683.5,387.5 682.8,389.0 682.2,389.2 681.5,389.3 680.9,389.3 680.2,389.3 679.5,389.3 678.9,389.3 678.2,389.2 677.5,389.2 676.9,389.2 676.2,389.2 675.5,389.2 674.9,389.2 674.2,389.2 673.6,389.1 672.9,389.1 672.2,389.1 671.6,389.0 670.9,389.0 670.2,389.0 669.6,389.0 668.9,389.0 668.3,389.0 667.6,389.0 666.9,389.0 666.3,389.0 665.6,389.0 665.0,389.0 664.3,389.0 663.6,389.0 663.0,389.0 662.3,389.0 661.6,389.0 661.0,389.0 660.3,389.0 659.6,389.0 659.0,388.9 658.3,388.8 657.7,388.6 657.0,387.5" fill="#2a2a2a" opacity="0.75" filter="url(#b12)"/>
<polygon points="694.0,389.3 694.7,386.7 695.4,386.3 696.0,386.0 696.7,385.9 697.4,385.8 698.0,385.7 698.7,385.7 699.4,385.7 700.1,385.6 700.8,385.6 701.4,385.6 702.1,385.6 702.8,385.6 703.5,385.6 704.1,385.6 704.8,385.6 705.5,385.6 706.1,385.6 706.8,385.6 707.5,385.6 708.2,385.5 708.9,385.5 709.5,385.5 710.2,385.5 710.9,385.4 711.5,385.4 712.2,385.4 712.9,385.4 713.6,385.3 714.2,385.4 714.9,385.4 715.6,385.4 716.3,385.4 717.0,385.5 717.6,385.5 718.3,385.7 719.0,385.8 719.6,386.1 720.3,386.5 721.0,389.3 721.0,389.3 720.3,392.1 719.6,392.5 719.0,392.8 718.3,392.9 717.6,393.1 717.0,393.1 716.3,393.2 715.6,393.2 714.9,393.2 714.2,393.2 713.6,393.3 712.9,393.2 712.2,393.2 711.5,393.2 710.9,393.2 710.2,393.1 709.5,393.1 708.9,393.1 708.2,393.1 707.5,393.1 706.8,393.0 706.1,393.0 705.5,393.0 704.8,393.0 704.1,393.0 703.5,393.0 702.8,393.0 702.1,393.0 701.4,393.0 700.8,393.0 700.1,393.0 699.4,392.9 698.7,392.9 698.0,392.9 697.4,392.8 696.7,392.7 696.0,392.6 695.4,392.3 694.7,391.9 694.0,389.3" fill="#6a6a6a" opacity="0.9" filter="url(#b15)"/>
<polygon points="695.0,387.3 695.6,386.2 696.3,386.0 696.9,385.9 697.5,385.8 698.2,385.8 698.8,385.8 699.5,385.8 700.1,385.8 700.7,385.8 701.4,385.8 702.0,385.8 702.6,385.8 703.3,385.8 703.9,385.8 704.6,385.8 705.2,385.8 705.8,385.8 706.5,385.8 707.1,385.8 707.8,385.8 708.4,385.8 709.0,385.8 709.7,385.7 710.3,385.7 710.9,385.7 711.6,385.6 712.2,385.6 712.9,385.6 713.5,385.6 714.1,385.6 714.8,385.6 715.4,385.6 716.0,385.5 716.7,385.5 717.3,385.5 718.0,385.5 718.6,385.5 719.2,385.6 719.9,385.8 720.5,387.3 720.5,387.3 719.9,388.8 719.2,389.0 718.6,389.1 718.0,389.1 717.3,389.1 716.7,389.1 716.0,389.1 715.4,389.0 714.8,389.0 714.1,389.0 713.5,389.0 712.9,389.0 712.2,389.0 711.6,389.0 710.9,388.9 710.3,388.9 709.7,388.9 709.0,388.8 708.4,388.8 707.8,388.8 707.1,388.8 706.5,388.8 705.8,388.8 705.2,388.8 704.6,388.8 703.9,388.8 703.3,388.8 702.6,388.8 702.0,388.8 701.4,388.8 700.7,388.8 700.1,388.8 699.5,388.8 698.8,388.8 698.2,388.8 697.5,388.8 696.9,388.7 696.3,388.6 695.6,388.4 695.0,387.3" fill="#2a2a2a" opacity="0.75" filter="url(#b12)"/>
<polygon points="730.0,389.2 730.7,386.6 731.4,386.2 732.1,385.9 732.8,385.8 733.4,385.7 734.1,385.6 734.8,385.6 735.5,385.6 736.2,385.5 736.9,385.5 737.6,385.5 738.2,385.5 738.9,385.5 739.6,385.5 740.3,385.5 741.0,385.5 741.7,385.5 742.4,385.5 743.1,385.5 743.8,385.4 744.4,385.4 745.1,385.4 745.8,385.4 746.5,385.4 747.2,385.3 747.9,385.3 748.6,385.3 749.2,385.3 749.9,385.2 750.6,385.3 751.3,385.3 752.0,385.3 752.7,385.3 753.4,385.4 754.1,385.4 754.8,385.6 755.4,385.7 756.1,386.0 756.8,386.4 757.5,389.2 757.5,389.2 756.8,392.0 756.1,392.4 755.4,392.7 754.8,392.8 754.1,393.0 753.4,393.0 752.7,393.1 752.0,393.1 751.3,393.1 750.6,393.1 749.9,393.2 749.2,393.1 748.6,393.1 747.9,393.1 747.2,393.1 746.5,393.0 745.8,393.0 745.1,393.0 744.4,393.0 743.8,392.9 743.1,392.9 742.4,392.9 741.7,392.9 741.0,392.9 740.3,392.9 739.6,392.9 738.9,392.9 738.2,392.9 737.6,392.9 736.9,392.9 736.2,392.9 735.5,392.8 734.8,392.8 734.1,392.8 733.4,392.7 732.8,392.6 732.1,392.5 731.4,392.2 730.7,391.8 730.0,389.2" fill="#6a6a6a" opacity="0.9" filter="url(#b15)"/>
<polygon points="731.0,387.2 731.6,386.1 732.3,385.9 733.0,385.8 733.6,385.7 734.2,385.7 734.9,385.7 735.5,385.7 736.2,385.7 736.9,385.7 737.5,385.7 738.1,385.7 738.8,385.7 739.5,385.7 740.1,385.7 740.8,385.7 741.4,385.7 742.0,385.7 742.7,385.7 743.4,385.7 744.0,385.7 744.6,385.7 745.3,385.7 746.0,385.6 746.6,385.6 747.2,385.6 747.9,385.5 748.5,385.5 749.2,385.5 749.9,385.5 750.5,385.5 751.1,385.5 751.8,385.5 752.5,385.4 753.1,385.4 753.8,385.4 754.4,385.4 755.0,385.4 755.7,385.5 756.4,385.7 757.0,387.2 757.0,387.2 756.4,388.7 755.7,388.9 755.0,389.0 754.4,389.0 753.8,389.0 753.1,389.0 752.5,389.0 751.8,388.9 751.1,388.9 750.5,388.9 749.9,388.9 749.2,388.9 748.5,388.9 747.9,388.9 747.2,388.8 746.6,388.8 746.0,388.8 745.3,388.7 744.6,388.7 744.0,388.7 743.4,388.7 742.7,388.7 742.0,388.7 741.4,388.7 740.8,388.7 740.1,388.7 739.5,388.7 738.8,388.7 738.1,388.7 737.5,388.7 736.9,388.7 736.2,388.7 735.5,388.7 734.9,388.7 734.2,388.7 733.6,388.7 733.0,388.6 732.3,388.5 731.6,388.3 731.0,387.2" fill="#2a2a2a" opacity="0.75" filter="url(#b12)"/>
</g>
<rect x="649.2" y="375.9" width="114.5" height="25.6" fill="none" stroke="#2a2a2a" stroke-width="1.3"/>
<rect x="649.2" y="405.9" width="114.5" height="25.5" fill="#c9c9c9"/>
<g clip-path="url(#ch6)">
<rect x="683.0" y="407.0" width="7.0" height="24.0" fill="#d8d8d8" opacity="0.6" filter="url(#b20)"/>
<rect x="720.0" y="407.0" width="7.0" height="24.0" fill="#d8d8d8" opacity="0.6" filter="url(#b20)"/>
<rect x="653.0" y="426.0" width="28.0" height="5.0" fill="#dcdcdc" opacity="0.6" filter="url(#b15)"/>
<rect x="692.0" y="426.0" width="26.0" height="5.0" fill="#dcdcdc" opacity="0.6" filter="url(#b15)"/>
<rect x="730.0" y="426.0" width="26.0" height="5.0" fill="#dcdcdc" opacity="0.6" filter="url(#b15)"/>
<polygon points="653.5,421.1 654.2,416.7 654.9,416.3 655.5,416.1 656.2,416.0 656.9,416.0 657.6,416.0 658.2,416.1 658.9,416.1 659.6,416.1 660.3,416.1 661.0,416.1 661.6,416.2 662.3,416.2 663.0,416.3 663.7,416.4 664.3,416.4 665.0,416.5 665.7,416.5 666.4,416.6 667.0,416.6 667.7,416.6 668.4,416.5 669.1,416.5 669.8,416.4 670.4,416.4 671.1,416.3 671.8,416.2 672.5,416.2 673.1,416.1 673.8,416.1 674.5,416.1 675.2,416.1 675.9,416.1 676.5,416.0 677.2,416.0 677.9,416.0 678.6,416.1 679.2,416.3 679.9,416.7 680.6,421.1 680.6,421.1 679.9,425.5 679.2,425.9 678.6,426.1 677.9,426.2 677.2,426.2 676.5,426.2 675.9,426.1 675.2,426.1 674.5,426.1 673.8,426.1 673.1,426.1 672.5,426.0 671.8,426.0 671.1,425.9 670.4,425.8 669.8,425.8 669.1,425.7 668.4,425.7 667.7,425.6 667.0,425.6 666.4,425.6 665.7,425.7 665.0,425.7 664.3,425.8 663.7,425.8 663.0,425.9 662.3,426.0 661.6,426.0 661.0,426.1 660.3,426.1 659.6,426.1 658.9,426.1 658.2,426.1 657.6,426.2 656.9,426.2 656.2,426.2 655.5,426.1 654.9,425.9 654.2,425.5 653.5,421.1" fill="#444" opacity="0.9" filter="url(#b12)"/>
<polygon points="653.5,421.1 654.2,416.1 654.9,415.7 655.5,415.6 656.2,415.6 656.9,415.7 657.6,415.8 658.2,415.9 658.9,416.0 659.6,416.1 660.3,416.1 661.0,416.2 661.6,416.3 662.3,416.5 663.0,416.8 663.7,417.1 664.3,417.4 665.0,417.7 665.7,417.9 666.4,418.0 667.0,418.1 667.7,418.0 668.4,417.9 669.1,417.7 669.8,417.4 670.4,417.1 671.1,416.8 671.8,416.5 672.5,416.3 673.1,416.2 673.8,416.1 674.5,416.1 675.2,416.0 675.9,415.9 676.5,415.8 677.2,415.7 677.9,415.6 678.6,415.6 679.2,415.7 679.9,416.1 680.6,421.1 680.6,421.1 679.9,426.1 679.2,426.5 678.6,426.6 677.9,426.6 677.2,426.5 676.5,426.4 675.9,426.3 675.2,426.2 674.5,426.1 673.8,426.1 673.1,426.0 672.5,425.9 671.8,425.7 671.1,425.4 670.4,425.1 669.8,424.8 669.1,424.5 668.4,424.3 667.7,424.2 667.0,424.1 666.4,424.2 665.7,424.3 665.0,424.5 664.3,424.8 663.7,425.1 663.0,425.4 662.3,425.7 661.6,425.9 661.0,426.0 660.3,426.1 659.6,426.1 658.9,426.2 658.2,426.3 657.6,426.4 656.9,426.5 656.2,426.6 655.5,426.6 654.9,426.5 654.2,426.1 653.5,421.1" fill="#000" opacity="1.0" filter="url(#b11)"/>
<polygon points="692.0,421.1 692.6,417.9 693.3,417.6 693.9,417.4 694.6,417.3 695.2,417.2 695.9,417.2 696.5,417.2 697.2,417.1 697.8,417.1 698.5,417.1 699.1,417.1 699.7,417.1 700.4,417.1 701.0,417.1 701.7,417.1 702.3,417.1 703.0,417.1 703.6,417.1 704.3,417.1 704.9,417.1 705.5,417.1 706.2,417.1 706.8,417.1 707.5,417.1 708.1,417.1 708.8,417.1 709.4,417.1 710.1,417.1 710.7,417.1 711.3,417.1 712.0,417.1 712.6,417.1 713.3,417.0 713.9,416.9 714.6,416.9 715.2,416.8 715.9,416.9 716.5,417.0 717.2,417.3 717.8,421.1 717.8,421.1 717.2,424.9 716.5,425.2 715.9,425.3 715.2,425.4 714.6,425.3 713.9,425.3 713.3,425.2 712.6,425.1 712.0,425.1 711.3,425.1 710.7,425.1 710.1,425.1 709.4,425.1 708.8,425.1 708.1,425.1 707.5,425.1 706.8,425.1 706.2,425.1 705.5,425.1 704.9,425.1 704.3,425.1 703.6,425.1 703.0,425.1 702.3,425.1 701.7,425.1 701.0,425.1 700.4,425.1 699.7,425.1 699.1,425.1 698.5,425.1 697.8,425.1 697.2,425.1 696.5,425.0 695.9,425.0 695.2,425.0 694.6,424.9 693.9,424.8 693.3,424.6 692.6,424.3 692.0,421.1" fill="#777" opacity="0.9" filter="url(#b12)"/>
<polygon points="692.0,421.1 692.6,417.8 693.3,417.6 693.9,417.7 694.6,418.0 695.2,418.3 695.9,418.7 696.5,419.0 697.2,419.3 697.8,419.5 698.5,419.6 699.1,419.6 699.7,419.7 700.4,419.7 701.0,419.8 701.7,419.9 702.3,419.9 703.0,420.0 703.6,420.0 704.3,420.1 704.9,420.1 705.5,420.1 706.2,420.0 706.8,419.9 707.5,419.7 708.1,419.6 708.8,419.5 709.4,419.3 710.1,419.2 710.7,419.1 711.3,419.1 712.0,419.0 712.6,418.7 713.3,418.3 713.9,417.8 714.6,417.3 715.2,416.9 715.9,416.5 716.5,416.4 717.2,416.6 717.8,421.1 717.8,421.1 717.2,425.6 716.5,425.8 715.9,425.7 715.2,425.3 714.6,424.9 713.9,424.4 713.3,423.9 712.6,423.5 712.0,423.2 711.3,423.1 710.7,423.1 710.1,423.0 709.4,422.9 708.8,422.7 708.1,422.6 707.5,422.5 706.8,422.3 706.2,422.2 705.5,422.1 704.9,422.1 704.3,422.1 703.6,422.2 703.0,422.2 702.3,422.3 701.7,422.3 701.0,422.4 700.4,422.5 699.7,422.5 699.1,422.6 698.5,422.6 697.8,422.7 697.2,422.9 696.5,423.2 695.9,423.5 695.2,423.9 694.6,424.2 693.9,424.5 693.3,424.6 692.6,424.4 692.0,421.1" fill="#000" opacity="1.0" filter="url(#b11)"/>
<polygon points="729.7,421.1 730.4,415.9 731.0,415.4 731.7,415.2 732.4,415.1 733.0,415.1 733.7,415.1 734.3,415.1 735.0,415.1 735.7,415.1 736.3,415.1 737.0,415.1 737.7,415.2 738.3,415.3 739.0,415.4 739.6,415.5 740.3,415.6 741.0,415.7 741.6,415.8 742.3,415.8 743.0,415.9 743.6,415.8 744.3,415.8 744.9,415.7 745.6,415.6 746.3,415.5 746.9,415.4 747.6,415.3 748.2,415.2 748.9,415.1 749.6,415.1 750.2,415.1 750.9,415.1 751.6,415.1 752.2,415.1 752.9,415.1 753.6,415.1 754.2,415.2 754.9,415.4 755.5,415.9 756.2,421.1 756.2,421.1 755.5,426.3 754.9,426.8 754.2,427.0 753.6,427.1 752.9,427.1 752.2,427.1 751.6,427.1 750.9,427.1 750.2,427.1 749.6,427.1 748.9,427.1 748.2,427.0 747.6,426.9 746.9,426.8 746.3,426.7 745.6,426.6 744.9,426.5 744.3,426.4 743.6,426.4 743.0,426.4 742.3,426.4 741.6,426.4 741.0,426.5 740.3,426.6 739.6,426.7 739.0,426.8 738.3,426.9 737.7,427.0 737.0,427.1 736.3,427.1 735.7,427.1 735.0,427.1 734.3,427.1 733.7,427.1 733.0,427.1 732.4,427.1 731.7,427.0 731.0,426.8 730.4,426.3 729.7,421.1" fill="#000" opacity="1.0" filter="url(#b11)"/>
</g>
<rect x="649.2" y="405.9" width="114.5" height="25.5" fill="none" stroke="#2a2a2a" stroke-width="1.3"/>
<rect x="649.2" y="436.8" width="114.5" height="25.8" fill="#f2f2f2"/>
<g clip-path="url(#ch7)">
<polygon points="694.0,448.8 694.7,447.5 695.4,447.3 696.1,447.2 696.8,447.1 697.5,447.0 698.2,447.0 698.9,446.9 699.6,446.9 700.3,446.8 701.0,446.8 701.8,446.8 702.5,446.8 703.2,446.7 703.9,446.7 704.6,446.7 705.3,446.6 706.0,446.6 706.7,446.6 707.4,446.6 708.1,446.6 708.8,446.5 709.5,446.5 710.2,446.5 710.9,446.5 711.6,446.4 712.3,446.4 713.0,446.4 713.7,446.3 714.4,446.3 715.2,446.3 715.9,446.3 716.6,446.3 717.3,446.3 718.0,446.3 718.7,446.3 719.4,446.3 720.1,446.4 720.8,446.5 721.5,446.8 722.2,448.8 722.2,448.8 721.5,450.8 720.8,451.1 720.1,451.2 719.4,451.3 718.7,451.3 718.0,451.3 717.3,451.3 716.6,451.3 715.9,451.3 715.2,451.3 714.4,451.3 713.7,451.3 713.0,451.2 712.3,451.2 711.6,451.2 710.9,451.1 710.2,451.1 709.5,451.1 708.8,451.1 708.1,451.1 707.4,451.0 706.7,451.0 706.0,451.0 705.3,451.0 704.6,450.9 703.9,450.9 703.2,450.9 702.5,450.8 701.8,450.8 701.0,450.8 700.3,450.8 699.6,450.7 698.9,450.7 698.2,450.6 697.5,450.6 696.8,450.5 696.1,450.4 695.4,450.3 694.7,450.1 694.0,448.8" fill="#000" opacity="1.0" filter="url(#b10)"/>
<polygon points="728.8,448.7 729.5,446.7 730.2,446.4 730.8,446.2 731.5,446.1 732.2,446.0 732.9,445.9 733.6,445.8 734.3,445.8 734.9,445.7 735.6,445.7 736.3,445.7 737.0,445.7 737.7,445.7 738.4,445.7 739.0,445.7 739.7,445.7 740.4,445.7 741.1,445.7 741.8,445.7 742.5,445.7 743.1,445.7 743.8,445.7 744.5,445.7 745.2,445.7 745.9,445.7 746.5,445.7 747.2,445.7 747.9,445.7 748.6,445.7 749.3,445.7 750.0,445.7 750.6,445.8 751.3,445.8 752.0,445.9 752.7,446.0 753.4,446.1 754.1,446.2 754.7,446.4 755.4,446.7 756.1,448.7 756.1,448.7 755.4,450.7 754.7,451.0 754.1,451.2 753.4,451.3 752.7,451.4 752.0,451.5 751.3,451.6 750.6,451.6 750.0,451.7 749.3,451.7 748.6,451.7 747.9,451.7 747.2,451.7 746.5,451.7 745.9,451.7 745.2,451.7 744.5,451.7 743.8,451.7 743.1,451.7 742.5,451.7 741.8,451.7 741.1,451.7 740.4,451.7 739.7,451.7 739.0,451.7 738.4,451.7 737.7,451.7 737.0,451.7 736.3,451.7 735.6,451.7 734.9,451.7 734.3,451.6 733.6,451.6 732.9,451.5 732.2,451.4 731.5,451.3 730.8,451.2 730.2,451.0 729.5,450.7 728.8,448.7" fill="#000" opacity="1.0" filter="url(#b10)"/>
</g>
<rect x="649.2" y="436.8" width="114.5" height="25.8" fill="none" stroke="#2a2a2a" stroke-width="1.3"/>
<rect x="649.2" y="468.7" width="114.5" height="25.6" fill="#f3f3f3"/>
<g clip-path="url(#ch8)">
<polygon points="730.6,480.7 731.2,477.9 731.8,477.5 732.5,477.3 733.1,477.2 733.7,477.0 734.3,476.9 734.9,476.9 735.5,476.8 736.2,476.7 736.8,476.7 737.4,476.7 738.0,476.7 738.6,476.7 739.2,476.7 739.9,476.7 740.5,476.7 741.1,476.7 741.7,476.7 742.3,476.7 743.0,476.7 743.6,476.7 744.2,476.7 744.8,476.7 745.4,476.7 746.0,476.7 746.7,476.7 747.3,476.7 747.9,476.7 748.5,476.7 749.1,476.7 749.7,476.7 750.4,476.8 751.0,476.9 751.6,476.9 752.2,477.0 752.8,477.2 753.4,477.3 754.1,477.5 754.7,477.9 755.3,480.7 755.3,480.7 754.7,483.5 754.1,483.9 753.4,484.1 752.8,484.2 752.2,484.4 751.6,484.5 751.0,484.5 750.4,484.6 749.7,484.7 749.1,484.7 748.5,484.7 747.9,484.7 747.3,484.7 746.7,484.7 746.0,484.7 745.4,484.7 744.8,484.7 744.2,484.7 743.6,484.7 743.0,484.7 742.3,484.7 741.7,484.7 741.1,484.7 740.5,484.7 739.9,484.7 739.2,484.7 738.6,484.7 738.0,484.7 737.4,484.7 736.8,484.7 736.2,484.7 735.5,484.6 734.9,484.5 734.3,484.5 733.7,484.4 733.1,484.2 732.5,484.1 731.8,483.9 731.2,483.5 730.6,480.7" fill="#000" opacity="1.0" filter="url(#b10)"/>
</g>
<rect x="649.2" y="468.7" width="114.5" height="25.6" fill="none" stroke="#2a2a2a" stroke-width="1.3"/>
<rect x="649.2" y="500.3" width="114.5" height="26.2" fill="#efefef"/>
<g clip-path="url(#ch9)">
<polygon points="656.8,513.9 657.6,510.6 658.4,510.1 659.1,509.9 659.9,509.7 660.7,509.6 661.5,509.6 662.3,509.5 663.0,509.5 663.8,509.4 664.6,509.4 665.4,509.4 666.2,509.4 666.9,509.5 667.7,509.5 668.5,509.5 669.3,509.6 670.1,509.6 670.8,509.6 671.6,509.6 672.4,509.6 673.2,509.7 674.0,509.7 674.7,509.7 675.5,509.7 676.3,509.8 677.1,509.8 677.9,509.9 678.6,509.9 679.4,509.9 680.2,509.9 681.0,509.9 681.8,510.0 682.5,510.0 683.3,510.0 684.1,510.1 684.9,510.2 685.7,510.3 686.4,510.6 687.2,510.9 688.0,513.9 688.0,513.9 687.2,516.9 686.4,517.2 685.7,517.5 684.9,517.6 684.1,517.7 683.3,517.8 682.5,517.8 681.8,517.8 681.0,517.9 680.2,517.9 679.4,517.9 678.6,517.9 677.9,517.9 677.1,518.0 676.3,518.0 675.5,518.1 674.7,518.1 674.0,518.1 673.2,518.1 672.4,518.1 671.6,518.2 670.8,518.2 670.1,518.2 669.3,518.2 668.5,518.3 667.7,518.3 666.9,518.3 666.2,518.4 665.4,518.4 664.6,518.4 663.8,518.4 663.0,518.3 662.3,518.3 661.5,518.2 660.7,518.2 659.9,518.1 659.1,517.9 658.4,517.7 657.6,517.2 656.8,513.9" fill="#000" opacity="1.0" filter="url(#b10)"/>
<polygon points="658,514 686,514 680,525 668,525" fill="#444" opacity="0.45" filter="url(#b20)"/>
<polygon points="691.4,513.9 692.2,510.9 692.9,510.6 693.7,510.3 694.4,510.2 695.2,510.1 696.0,510.0 696.7,510.0 697.5,510.0 698.2,509.9 699.0,509.9 699.8,509.9 700.5,509.9 701.3,509.9 702.0,509.9 702.8,509.9 703.6,509.9 704.3,509.9 705.1,509.9 705.8,509.9 706.6,509.9 707.4,509.9 708.1,509.9 708.9,509.9 709.6,509.9 710.4,509.9 711.2,509.9 711.9,509.9 712.7,509.9 713.4,509.9 714.2,509.9 715.0,509.9 715.7,510.0 716.5,510.0 717.2,510.0 718.0,510.1 718.8,510.2 719.5,510.3 720.3,510.6 721.0,510.9 721.8,513.9 721.8,513.9 721.0,516.9 720.3,517.2 719.5,517.5 718.8,517.6 718.0,517.7 717.2,517.8 716.5,517.8 715.7,517.8 715.0,517.9 714.2,517.9 713.4,517.9 712.7,517.9 711.9,517.9 711.2,517.9 710.4,517.9 709.6,517.9 708.9,517.9 708.1,517.9 707.4,517.9 706.6,517.9 705.8,517.9 705.1,517.9 704.3,517.9 703.6,517.9 702.8,517.9 702.0,517.9 701.3,517.9 700.5,517.9 699.8,517.9 699.0,517.9 698.2,517.9 697.5,517.8 696.7,517.8 696.0,517.8 695.2,517.7 694.4,517.6 693.7,517.5 692.9,517.2 692.2,516.9 691.4,513.9" fill="#000" opacity="1.0" filter="url(#b10)"/>
<polygon points="726.0,513.9 726.8,510.9 727.5,510.6 728.3,510.3 729.0,510.2 729.8,510.1 730.6,510.0 731.3,510.0 732.1,510.0 732.8,509.9 733.6,509.9 734.4,509.9 735.1,509.9 735.9,510.0 736.6,510.0 737.4,510.0 738.2,510.1 738.9,510.1 739.7,510.1 740.4,510.1 741.2,510.1 742.0,510.1 742.7,510.1 743.5,510.1 744.2,510.1 745.0,510.0 745.8,510.0 746.5,510.0 747.3,509.9 748.0,509.9 748.8,509.9 749.6,509.9 750.3,510.0 751.1,510.0 751.8,510.0 752.6,510.1 753.4,510.2 754.1,510.3 754.9,510.6 755.6,510.9 756.4,513.9 756.4,513.9 755.6,516.9 754.9,517.2 754.1,517.5 753.4,517.6 752.6,517.7 751.8,517.8 751.1,517.8 750.3,517.8 749.6,517.9 748.8,517.9 748.0,517.9 747.3,517.9 746.5,517.8 745.8,517.8 745.0,517.8 744.2,517.7 743.5,517.7 742.7,517.7 742.0,517.7 741.2,517.6 740.4,517.7 739.7,517.7 738.9,517.7 738.2,517.7 737.4,517.8 736.6,517.8 735.9,517.8 735.1,517.9 734.4,517.9 733.6,517.9 732.8,517.9 732.1,517.8 731.3,517.8 730.6,517.8 729.8,517.7 729.0,517.6 728.3,517.5 727.5,517.2 726.8,516.9 726.0,513.9" fill="#000" opacity="1.0" filter="url(#b10)"/>
</g>
<rect x="649.2" y="500.3" width="114.5" height="26.2" fill="none" stroke="#2a2a2a" stroke-width="1.3"/>
<text x="643.9" y="269.3" font-size="12" text-anchor="end" font-weight="normal" fill="#1a1a1a" stroke="#1a1a1a" stroke-width="0.2">Lama2</text>
<text x="643.9" y="300.0" font-size="12" text-anchor="end" font-weight="normal" fill="#1a1a1a" stroke="#1a1a1a" stroke-width="0.2">LN211</text>
<text x="643.9" y="330.7" font-size="12" text-anchor="end" font-weight="normal" fill="#1a1a1a" stroke="#1a1a1a" stroke-width="0.2">Flag</text>
<text x="643.9" y="362.3" font-size="12" text-anchor="end" font-weight="normal" fill="#1a1a1a" stroke="#1a1a1a" stroke-width="0.2">HA</text>
<text x="643.9" y="392.5" font-size="12" text-anchor="end" font-weight="normal" fill="#1a1a1a" stroke="#1a1a1a" stroke-width="0.2">Lama2</text>
<text x="643.9" y="422.3" font-size="12" text-anchor="end" font-weight="normal" fill="#1a1a1a" stroke="#1a1a1a" stroke-width="0.2">LN211</text>
<text x="643.9" y="454.2" font-size="12" text-anchor="end" font-weight="normal" fill="#1a1a1a" stroke="#1a1a1a" stroke-width="0.2">Flag</text>
<text x="643.9" y="486.4" font-size="12" text-anchor="end" font-weight="normal" fill="#1a1a1a" stroke="#1a1a1a" stroke-width="0.2">HA</text>
<text x="643.9" y="517.5" font-size="12" text-anchor="end" font-weight="normal" fill="#1a1a1a" stroke="#1a1a1a" stroke-width="0.2">GAPDH</text>
<text x="0" y="0" font-size="11.8" text-anchor="middle" fill="#1a1a1a" stroke="#1a1a1a" stroke-width="0.2" transform="translate(595.2 316.0) rotate(-90)">IP:Flag</text>
<text x="0" y="0" font-size="11.8" text-anchor="middle" fill="#1a1a1a" stroke="#1a1a1a" stroke-width="0.2" transform="translate(597.8 436.0) rotate(-90)">Input</text>
<line x1="602.0" y1="261.0" x2="602.0" y2="368.5" stroke="#333" stroke-width="1.2"/>
<line x1="602.0" y1="385.8" x2="602.0" y2="493.4" stroke="#333" stroke-width="1.2"/>
<line x1="765.2" y1="266.3" x2="769.7" y2="266.3" stroke="#222" stroke-width="1.1"/>
<text x="771.2" y="269.9" font-size="10" text-anchor="start" font-weight="normal" fill="#222" stroke="#222" stroke-width="0.3">340 kDa</text>
<line x1="765.2" y1="296.8" x2="769.7" y2="296.8" stroke="#222" stroke-width="1.1"/>
<text x="771.2" y="300.4" font-size="10" text-anchor="start" font-weight="normal" fill="#222" stroke="#222" stroke-width="0.3">340 kDa</text>
<line x1="765.2" y1="327.7" x2="769.7" y2="327.7" stroke="#222" stroke-width="1.1"/>
<text x="770.0" y="331.3" font-size="10" text-anchor="start" font-weight="normal" fill="#222" stroke="#222" stroke-width="0.3">130 kDa</text>
<line x1="765.2" y1="358.7" x2="769.7" y2="358.7" stroke="#222" stroke-width="1.1"/>
<text x="770.0" y="362.3" font-size="10" text-anchor="start" font-weight="normal" fill="#222" stroke="#222" stroke-width="0.3">16 kDa</text>
<line x1="765.2" y1="391.9" x2="769.7" y2="391.9" stroke="#222" stroke-width="1.1"/>
<text x="771.2" y="395.5" font-size="10" text-anchor="start" font-weight="normal" fill="#222" stroke="#222" stroke-width="0.3">340 kDa</text>
<line x1="765.2" y1="421.7" x2="769.7" y2="421.7" stroke="#222" stroke-width="1.1"/>
<text x="771.2" y="425.3" font-size="10" text-anchor="start" font-weight="normal" fill="#222" stroke="#222" stroke-width="0.3">340kDa</text>
<line x1="765.2" y1="449.7" x2="769.7" y2="449.7" stroke="#222" stroke-width="1.1"/>
<text x="770.0" y="453.3" font-size="10" text-anchor="start" font-weight="normal" fill="#222" stroke="#222" stroke-width="0.3">130 kDa</text>
<line x1="765.2" y1="481.9" x2="769.7" y2="481.9" stroke="#222" stroke-width="1.1"/>
<text x="770.0" y="485.5" font-size="10" text-anchor="start" font-weight="normal" fill="#222" stroke="#222" stroke-width="0.3">16 kDa</text>
<line x1="765.2" y1="513.0" x2="769.7" y2="513.0" stroke="#222" stroke-width="1.1"/>
<text x="770.0" y="516.6" font-size="10" text-anchor="start" font-weight="normal" fill="#222" stroke="#222" stroke-width="0.3">36 kDa</text></svg></body></html>
